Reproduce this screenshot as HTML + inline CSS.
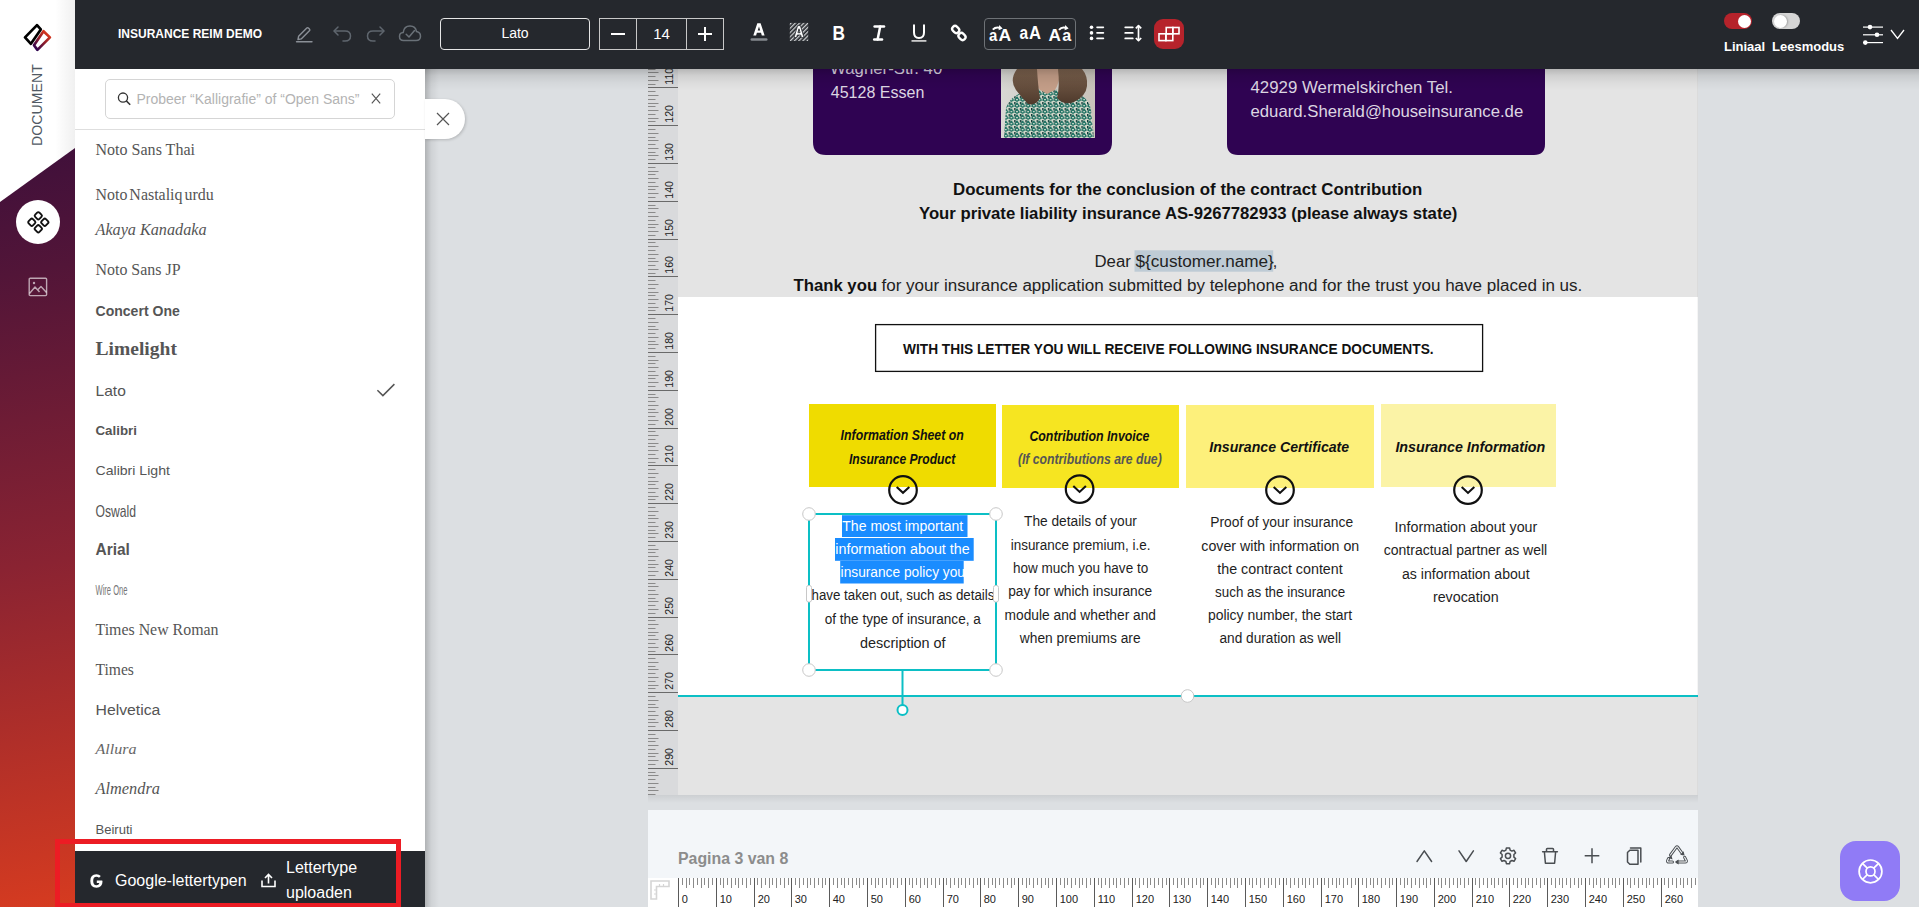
<!DOCTYPE html>
<html><head><meta charset="utf-8">
<style>
*{box-sizing:border-box;margin:0;padding:0}
html,body{width:1919px;height:907px;overflow:hidden;background:#dcdfe2;font-family:"Liberation Sans",sans-serif;position:relative}
.abs{position:absolute}
/* sidebar */
#side{left:0;top:0;width:75px;height:907px;background:linear-gradient(170deg,#2f0a3c 0%,#3d0f3b 15%,#521538 30%,#8a2332 62%,#d63b20 100%)}
#sidewhite{left:0;top:0;width:75px;height:202px;background:#fff;clip-path:polygon(0 0,75px 0,75px 148px,0 202px)}
#sideshadow{left:55px;top:0;width:20px;height:160px;background:linear-gradient(90deg,rgba(0,0,0,0),rgba(0,0,0,0.06));clip-path:polygon(0 0,20px 0,20px 148px,0 162px)}
#doc-label{left:37px;top:104.5px;transform:translate(-50%,-50%) rotate(-90deg);font-size:14px;color:#515a64;letter-spacing:0.15px;white-space:nowrap}
/* toolbar */
#tb{left:75px;top:0;width:1844px;height:69px;background:#25282d}
.tbt{color:#fff;font-weight:bold;font-size:12px;white-space:nowrap}
/* panel */
#panel{left:75px;top:69px;width:350px;height:782px;background:#fff}
#search{left:105px;top:79px;width:290px;height:40px;border:1px solid #d5d5d5;border-radius:5px;background:#fff}
#sep{left:75px;top:129px;width:350px;height:1px;background:#dedede}
.fi{position:absolute;left:95px;color:#555;white-space:nowrap}
#pfoot{left:75px;top:851px;width:350px;height:56px;background:#25282d}
#redbox{left:55px;top:839px;width:346px;height:69px;border:5px solid #ec1c24}
/* canvas */
#xtab{left:425px;top:99px;width:40px;height:40px;background:#fff;border-radius:0 20px 20px 0;box-shadow:1px 1px 3px rgba(0,0,0,0.18)}
#vr{left:648px;top:69px;width:30px;height:726px;background:#d9dadc;overflow:hidden}
#page{left:678px;top:69px;width:1020px;height:726px;background:#fff;overflow:hidden}
#pfooter{left:648px;top:810px;width:1050px;height:97px;background:#f3f6f9}
#help{left:1840px;top:841px;width:60px;height:60px;border-radius:16px;background:#907bf6}
</style></head><body>
<div id="side" class="abs"></div>
<div id="sidewhite" class="abs"></div>
<div id="sideshadow" class="abs"></div>
<div id="doc-label" class="abs">DOCUMENT</div>
<svg class="abs" style="left:15px;top:15px" width="45" height="45" viewBox="15 15 45 45">
<defs><linearGradient id="lg1" gradientUnits="userSpaceOnUse" x1="36" y1="50" x2="50" y2="34"><stop offset="0" stop-color="#2a0450"/><stop offset="0.5" stop-color="#8a1c2c"/><stop offset="1" stop-color="#e23a1c"/></linearGradient></defs>
<path d="M49.9 37.4 L37.4 49.9 L34 45.3 L43.5 31.2 Z" fill="none" stroke="url(#lg1)" stroke-width="2.7" stroke-linejoin="round"/>
<path d="M37 25.1 L25 37.4 L30.9 43.8 L40.8 29.4 Z" fill="none" stroke="#000" stroke-width="2.7" stroke-linejoin="round"/>
</svg>
<div class="abs" style="left:16px;top:199.5px;width:44px;height:44px;border-radius:22px;background:#fff"></div>
<svg class="abs" style="left:27px;top:211px" width="23" height="23" viewBox="0 0 23 23" fill="none" stroke="#111" stroke-width="1.9">
<rect x="8.3" y="1.8" width="6" height="6" rx="1.6" transform="rotate(45 11.3 4.8)"/>
<rect x="8.3" y="14.8" width="6" height="6" rx="1.6" transform="rotate(45 11.3 17.8)"/>
<rect x="1.8" y="8.3" width="6" height="6" rx="1.6" transform="rotate(45 4.8 11.3)"/>
<rect x="14.8" y="8.3" width="6" height="6" rx="1.6" transform="rotate(45 17.8 11.3)"/>
</svg>
<svg class="abs" style="left:28px;top:277px" width="20" height="20" viewBox="0 0 20 20" fill="none" stroke="rgba(255,255,255,0.62)" stroke-width="1.4">
<rect x="1.2" y="1.2" width="17.4" height="17.4" rx="1"/><circle cx="6" cy="6" r="1.2" fill="rgba(255,255,255,0.62)" stroke="none"/><path d="M1.5 16.5 L7 10 L11.5 15 M9.5 13 L13 9.5 L18.5 15.5" stroke-linejoin="round"/>
</svg>

<div id="tb" class="abs"></div>
<div class="abs tbt" style="left:118px;top:27px">INSURANCE REIM DEMO</div>
<!-- pencil -->
<svg class="abs" style="left:294px;top:24px" width="20" height="20" viewBox="0 0 20 20" fill="none" stroke="#8b9097" stroke-width="1.4" stroke-linejoin="round"><path d="M4 15.5 L4.6 12.3 L12.8 4.1 Q13.6 3.3 14.4 4.1 L15.4 5.1 Q16.2 5.9 15.4 6.7 L7.2 14.9 Z"/><path d="M2.5 17.8 H18" stroke-linecap="round"/></svg>
<!-- undo -->
<svg class="abs" style="left:332px;top:24px" width="21" height="20" viewBox="0 0 21 20" fill="none" stroke="#5f666e" stroke-width="1.5" stroke-linecap="round" stroke-linejoin="round"><path d="M6 3 L2 7 L6 11"/><path d="M2.5 7 H13 Q18.5 7 18.5 12 Q18.5 17 13 17 H11"/></svg>
<!-- redo -->
<svg class="abs" style="left:365px;top:24px" width="21" height="20" viewBox="0 0 21 20" fill="none" stroke="#5f666e" stroke-width="1.5" stroke-linecap="round" stroke-linejoin="round"><path d="M15 3 L19 7 L15 11"/><path d="M18.5 7 H8 Q2.5 7 2.5 12 Q2.5 17 8 17 H10"/></svg>
<!-- cloud check -->
<svg class="abs" style="left:398px;top:23px" width="24" height="21" viewBox="0 0 24 21" fill="none" stroke="#6a7178" stroke-width="1.5" stroke-linecap="round" stroke-linejoin="round"><path d="M7 17.5 H5.5 Q1.5 17.5 1.5 13.5 Q1.5 9.8 5.2 9.6 Q6 3 12 3 Q17.6 3 18.5 8.6 Q22.5 9.3 22.5 13.2 Q22.5 17.5 18 17.5 H7"/><path d="M8.2 11.2 L11 14 L16.5 7.5"/></svg>
<!-- font name -->
<div class="abs" style="left:440px;top:18px;width:150px;height:32px;border:1px solid #e6e6e6;border-radius:4px;color:#fff;font-size:14px;text-align:center;line-height:28px">Lato</div>
<!-- size group -->
<div class="abs" style="left:599px;top:18px;width:125px;height:32px;border:1px solid #c8c8c8"></div>
<div class="abs" style="left:636px;top:18px;width:1px;height:32px;background:#c8c8c8"></div>
<div class="abs" style="left:686px;top:18px;width:1px;height:32px;background:#c8c8c8"></div>
<div class="abs" style="left:611px;top:33px;width:14px;height:2px;background:#fff"></div>
<div class="abs" style="left:637px;top:18px;width:49px;height:32px;color:#fff;font-size:15px;text-align:center;line-height:32px">14</div>
<div class="abs" style="left:698px;top:33px;width:14px;height:2px;background:#fff"></div>
<div class="abs" style="left:704px;top:27px;width:2px;height:14px;background:#fff"></div>
<!-- text color A -->
<svg class="abs" style="left:748px;top:21px" width="22" height="22" viewBox="0 0 22 22"><path fill-rule="evenodd" d="M5.3 14.4 L9.3 2.3 H12.6 L16.6 14.4 H13.8 L13 11.8 H8.9 L8.1 14.4 Z M9.7 9.4 H12.2 L11 5.6 Z" fill="#fff"/><rect x="2.5" y="17.2" width="17" height="2.5" rx="1.25" fill="#85898e"/></svg>
<!-- highlight A hatched -->
<svg class="abs" style="left:788px;top:21px" width="22" height="22" viewBox="0 0 22 22"><defs><pattern id="hatch" width="3" height="3" patternUnits="userSpaceOnUse" patternTransform="rotate(-45)"><rect width="3" height="1.3" fill="#d0d2d4"/></pattern></defs><rect x="1.8" y="1.9" width="18.4" height="18.1" fill="url(#hatch)"/><path fill-rule="evenodd" d="M6 16.6 L9.6 4.6 H12.4 L16 16.6 H13.4 L12.7 14 H9.3 L8.6 16.6 Z M9.9 11.7 H12.1 L11 7.8 Z" fill="#fff" stroke="#25282d" stroke-width="0.8"/></svg>
<!-- B -->
<svg class="abs" style="left:829px;top:21px" width="20" height="24" viewBox="0 0 20 24"><text x="3.5" y="19.4" font-family="Liberation Sans" font-weight="bold" font-size="19.5" fill="#fff" textLength="12.5" lengthAdjust="spacingAndGlyphs">B</text></svg>
<!-- I -->
<svg class="abs" style="left:868px;top:23px" width="20" height="20" viewBox="0 0 20 20" fill="none" stroke="#fff" stroke-width="2.5" stroke-linecap="round"><path d="M6.6 3.4 H16"/><path d="M6.2 16.4 H14"/><path d="M12.2 3.4 L9.6 16.4"/></svg>
<!-- U -->
<svg class="abs" style="left:909px;top:23px" width="20" height="20" viewBox="0 0 20 20" fill="none" stroke="#fff" stroke-width="2"><path d="M5 2.2 V9.5 Q5 15 10 15 Q15 15 15 9.5 V2.2" stroke-linecap="round"/><path d="M2.5 17.9 H17.4" stroke="#c9c9c9" stroke-width="1.8"/></svg>
<!-- link -->
<svg class="abs" style="left:948px;top:23px" width="21" height="21" viewBox="0 0 21 21" fill="none" stroke="#fff" stroke-width="2.3"><rect x="3.9" y="3.6" width="7.6" height="5.8" rx="2.9" transform="rotate(45 7.7 6.5)"/><rect x="10.2" y="10.6" width="7.6" height="5.8" rx="2.9" transform="rotate(45 14 13.5)"/></svg>
<!-- case group -->
<div class="abs" style="left:984px;top:18px;width:92px;height:32px;border:1px solid #6e7276;border-radius:4px"></div>
<svg class="abs" style="left:986px;top:22px" width="88" height="22" viewBox="0 0 88 22" fill="#fff" font-family="Liberation Sans" font-weight="bold">
<text x="2.9" y="18.8" font-size="16.5" textLength="8.3" lengthAdjust="spacingAndGlyphs">a</text><text x="12.6" y="18.8" font-size="17" textLength="12.7" lengthAdjust="spacingAndGlyphs">A</text>
<path d="M6.8 7.6 Q10 4.2 15 6.2" fill="none" stroke="#fff" stroke-width="2"/><path d="M13.2 3 L16.6 6.4 L12.6 8.2 Z"/>
<text x="33.6" y="17" font-size="17.5" textLength="8.6" lengthAdjust="spacingAndGlyphs">a</text><text x="43" y="17" font-size="17.5" textLength="12" lengthAdjust="spacingAndGlyphs">A</text>
<text x="62.6" y="18.8" font-size="16.8" textLength="12.4" lengthAdjust="spacingAndGlyphs">A</text><text x="76.2" y="18.8" font-size="16.5" textLength="9" lengthAdjust="spacingAndGlyphs">a</text>
<path d="M73 7.8 Q76 4.2 81 6.2" fill="none" stroke="#fff" stroke-width="2"/><path d="M79.2 3 L82.6 6.4 L78.6 8.2 Z"/>
</svg>
<!-- list -->
<svg class="abs" style="left:1088px;top:24px" width="18" height="18" viewBox="0 0 18 18" fill="#fff"><circle cx="3.5" cy="3.3" r="1.8"/><circle cx="3.5" cy="8.9" r="1.8"/><circle cx="3.5" cy="14.4" r="1.8"/><rect x="8.2" y="2.45" width="8" height="1.7" rx="0.8"/><rect x="8.2" y="8.05" width="8" height="1.7" rx="0.8"/><rect x="8.2" y="13.55" width="8" height="1.7" rx="0.8"/></svg>
<!-- line spacing -->
<svg class="abs" style="left:1123px;top:24px" width="20" height="18" viewBox="0 0 20 18" fill="none" stroke="#fff" stroke-width="1.7"><path d="M2.2 3.3 H9.8 M2.2 8.9 H9.8 M2.2 14.4 H9.8" stroke-linecap="round"/><path d="M15.5 2 V16.3"/><path d="M12.8 4.3 L15.5 1.6 L18.2 4.3 M12.8 14 L15.5 16.7 L18.2 14" stroke-linejoin="round"/></svg>
<!-- red active -->
<div class="abs" style="left:1154px;top:19px;width:30px;height:30px;border-radius:9px;background:#b6232b"></div>
<svg class="abs" style="left:1157px;top:25px" width="24" height="18" viewBox="0 0 24 18" fill="none" stroke="#fff" stroke-width="1.6"><rect x="9.2" y="2.5" width="6.6" height="6.3"/><rect x="15.8" y="2.5" width="6.2" height="6.3"/><rect x="2" y="8.8" width="6.9" height="6.8"/><rect x="8.9" y="8.8" width="6.9" height="6.8"/></svg>
<!-- toggles -->
<div class="abs" style="left:1724px;top:13px;width:28px;height:16px;border-radius:8px;background:#b6232b"></div>
<div class="abs" style="left:1737.5px;top:14.5px;width:13px;height:13px;border-radius:7px;background:#fff"></div>
<div class="abs" style="left:1772px;top:13px;width:28px;height:16px;border-radius:8px;background:#d5d5d5"></div>
<div class="abs" style="left:1773.5px;top:14.5px;width:13px;height:13px;border-radius:7px;background:#fff;box-shadow:1px 0 2px rgba(0,0,0,0.25)"></div>
<div class="abs" style="left:1724px;top:39px;color:#fff;font-weight:bold;font-size:13px;white-space:nowrap">Liniaal</div>
<div class="abs" style="left:1772px;top:39px;color:#fff;font-weight:bold;font-size:13px;white-space:nowrap">Leesmodus</div>
<!-- sliders -->
<svg class="abs" style="left:1862px;top:23px" width="22" height="22" viewBox="0 0 22 22" fill="#fff"><rect x="1" y="3.5" width="20" height="1.2"/><rect x="1" y="11.2" width="20" height="1.2"/><rect x="1" y="19" width="20" height="1.2"/><circle cx="8" cy="4.1" r="2.3"/><circle cx="15" cy="11.8" r="2.3"/><circle cx="3.3" cy="19.6" r="2.3"/></svg>
<svg class="abs" style="left:1890px;top:29px" width="15" height="11" viewBox="0 0 15 11" fill="none" stroke="#fff" stroke-width="1.3"><path d="M1 1 L7.5 9.5 L14 1"/></svg>


<div id="panel" class="abs"></div>
<div id="search" class="abs"></div>
<div id="sep" class="abs"></div>
<svg class="abs" style="left:0;top:0" width="425" height="130" viewBox="0 0 425 130">
<circle cx="123" cy="97.6" r="4.6" fill="none" stroke="#333" stroke-width="1.3"/><path d="M126.3 100.9 L130.2 104.8" stroke="#333" stroke-width="1.5"/>
<text x="136.5" y="104.3" font-family="Liberation Sans" font-size="14" fill="#b3b3b3" textLength="223" lengthAdjust="spacingAndGlyphs">Probeer “Kalligrafie” of “Open Sans”</text>
<path d="M371.8 93.6 L380.2 103.4 M380.2 93.6 L371.8 103.4" stroke="#555" stroke-width="1.15"/>
</svg>
<svg class="abs" style="left:0;top:0" width="425" height="851" viewBox="0 0 425 851">
<text x="95.5" y="154.8" font-family='Liberation Serif' font-size='16' fill="#555" textLength="99.5" lengthAdjust="spacingAndGlyphs">Noto Sans Thai</text>
<text x="95.5" y="199.9" font-family='Liberation Serif' font-size='16' word-spacing='-2' fill="#555" textLength="118.2" lengthAdjust="spacingAndGlyphs">Noto Nastaliq urdu</text>
<text x="95.5" y="234.6" font-family='Liberation Serif' font-style='italic' font-size='16' fill="#555" textLength="111" lengthAdjust="spacingAndGlyphs">Akaya Kanadaka</text>
<text x="95.5" y="275.2" font-family='Liberation Serif' font-size='16' fill="#555" textLength="85" lengthAdjust="spacingAndGlyphs">Noto Sans JP</text>
<text x="95.5" y="316.1" font-family='Liberation Sans' font-weight='bold' font-size='14.5' fill="#555" textLength="84.3" lengthAdjust="spacingAndGlyphs">Concert One</text>
<text x="95.5" y="354.9" font-family='Liberation Serif' font-weight='bold' font-size='18' fill="#555" textLength="81.4" lengthAdjust="spacingAndGlyphs">Limelight</text>
<text x="95.5" y="395.8" font-family='Liberation Sans' font-size='14.5' fill="#555" textLength="30.3" lengthAdjust="spacingAndGlyphs">Lato</text>
<text x="95.5" y="435" font-family='Liberation Sans' font-weight='bold' font-size='13' fill="#555" textLength="41.4" lengthAdjust="spacingAndGlyphs">Calibri</text>
<text x="95.5" y="474.7" font-family='Liberation Sans' font-size='13.3' fill="#555" textLength="74.4" lengthAdjust="spacingAndGlyphs">Calibri Light</text>
<text x="95.5" y="516.7" font-family='Liberation Sans' font-size='17' fill="#555" textLength="40.5" lengthAdjust="spacingAndGlyphs">Oswald</text>
<text x="95.5" y="554.6" font-family='Liberation Sans' font-weight='bold' font-size='16' fill="#555" textLength="34.4" lengthAdjust="spacingAndGlyphs">Arial</text>
<text x="95.5" y="595" font-family='Liberation Sans' font-size='14.5' fill="#777" textLength="32" lengthAdjust="spacingAndGlyphs">Wire One</text>
<text x="95.5" y="634.7" font-family='Liberation Serif' font-size='16' fill="#555" textLength="123" lengthAdjust="spacingAndGlyphs">Times New Roman</text>
<text x="95.5" y="674.9" font-family='Liberation Serif' font-size='16' fill="#555" textLength="38.4" lengthAdjust="spacingAndGlyphs">Times</text>
<text x="95.5" y="715" font-family='Liberation Sans' font-size='15.5' fill="#555" textLength="64.9" lengthAdjust="spacingAndGlyphs">Helvetica</text>
<text x="95.5" y="753.7" font-family='Liberation Serif' font-style='italic' font-size='14' fill="#666" textLength="41" lengthAdjust="spacingAndGlyphs">Allura</text>
<text x="95.5" y="794.3" font-family='Liberation Serif' font-style='italic' font-size='17' fill="#555" textLength="64.4" lengthAdjust="spacingAndGlyphs">Almendra</text>
<text x="95.5" y="833.8" font-family='Liberation Sans' font-size='12.5' fill="#555" textLength="37" lengthAdjust="spacingAndGlyphs">Beiruti</text>
<path d="M377.4 390.3 L382.9 395.6 L394.4 384.1" fill="none" stroke="#555" stroke-width="1.5"/>
</svg>
<div id="pfoot" class="abs"></div>
<svg class="abs" style="left:0;top:851px" width="425" height="56" viewBox="0 851 425 56">
<path d="M102.2 880.5 H96.8 V882.9 H99.4 Q98.8 885.2 96.4 885.2 Q93.2 885.2 93.2 881 Q93.2 876.8 96.4 876.8 Q98 876.8 99 877.8 L100.8 876 Q99.1 874.3 96.4 874.3 Q90.3 874.3 90.3 881 Q90.3 887.7 96.4 887.7 Q102.5 887.7 102.5 881.6 Z" fill="#fff"/>
<text x="115" y="886.2" font-family="Liberation Sans" font-size="16" fill="#fff">Google-lettertypen</text>
<path d="M262 880.5 V886.5 H275 V880.5" fill="none" stroke="#fff" stroke-width="1.6"/><path d="M268.5 883.5 V874.5 M265 878 L268.5 874.5 L272 878" fill="none" stroke="#fff" stroke-width="1.6"/>
<text x="286" y="873" font-family="Liberation Sans" font-size="16" fill="#fff">Lettertype</text>
<text x="286" y="898.3" font-family="Liberation Sans" font-size="16" fill="#fff">uploaden</text>
</svg>
<div id="redbox" class="abs"></div>

<div class="abs" style="left:425px;top:69px;width:14px;height:838px;background:linear-gradient(90deg,rgba(0,0,0,0.2),rgba(0,0,0,0.06) 45%,rgba(0,0,0,0))"></div>
<div class="abs" style="left:648px;top:795px;width:1050px;height:8px;background:linear-gradient(180deg,rgba(0,0,0,0.07),rgba(0,0,0,0))"></div>
<div id="xtab" class="abs"></div>
<svg class="abs" style="left:425px;top:99px" width="40" height="40" viewBox="425 99 40 40"><path d="M437 113 L449 125 M449 113 L437 125" stroke="#555" stroke-width="1.2"/></svg>
<svg class="abs" style="left:678px;top:69px" width="1020" height="726" viewBox="678 69 1020 726">
<rect x="678" y="69" width="1020" height="726" fill="#fff"/>
<rect x="678" y="69" width="1020" height="228" fill="#e4e4e4"/>
<rect x="678" y="696" width="1020" height="99" fill="#e4e4e4"/>
<path d="M813 40 H1112 V142 Q1112 155 1099 155 H826 Q813 155 813 142 Z" fill="#2f0352"/>
<path d="M1227 40 H1545 V144 Q1545 155 1534 155 H1238 Q1227 155 1227 144 Z" fill="#2f0352"/>
<defs>
<linearGradient id="ph1" x1="0" y1="0" x2="1" y2="0"><stop offset="0" stop-color="#d9d8d4"/><stop offset="0.5" stop-color="#cfcbc4"/><stop offset="1" stop-color="#c9c3bb"/></linearGradient>
<pattern id="shirt" width="5.6" height="6" patternUnits="userSpaceOnUse" patternTransform="translate(1003 90)"><rect width="5.6" height="6" fill="#d5d9cc"/><path d="M2.8 0 L5.6 4.2 L2.8 6 L0 4.2 Z" fill="#146b5c"/><circle cx="2.8" cy="3.6" r="0.9" fill="#dfe3d6"/><rect x="0" y="0" width="1.4" height="2.4" fill="#0a3a36"/></pattern>
<linearGradient id="hair" x1="0" y1="0" x2="0" y2="1"><stop offset="0" stop-color="#7d634f"/><stop offset="1" stop-color="#4f3a2c"/></linearGradient>
</defs>
<rect x="1001" y="69" width="94" height="69" fill="url(#ph1)"/>
<path d="M1004 138 L1006 108 Q1010 96 1024 92 Q1038 88 1047 91 Q1060 88 1074 92 Q1089 97 1091 110 L1094 138 Z" fill="url(#shirt)"/>
<path d="M1033 69 Q1033 82 1040 90 L1047 94 L1055 90 Q1060 82 1060 69 Z" fill="#c49e88"/>
<path d="M1017 69 Q1009 80 1016 90 Q1022 98 1028 104 Q1036 106 1040 98 Q1038 86 1037 69 Z" fill="url(#hair)"/>
<path d="M1058 69 Q1060 86 1057 98 Q1064 106 1074 102 Q1086 96 1087 86 Q1088 76 1082 69 Z" fill="url(#hair)"/>
<text x="830.0" y="74.2" font-family="Liberation Sans" font-size="17" font-weight="normal" font-style="normal" fill="#ddd6e2" textLength="112.3" lengthAdjust="spacingAndGlyphs">Wagner-Str. 40</text>
<text x="830.8" y="98.0" font-family="Liberation Sans" font-size="17" font-weight="normal" font-style="normal" fill="#ddd6e2" textLength="93.5" lengthAdjust="spacingAndGlyphs">45128 Essen</text>
<text x="1250.5" y="93.2" font-family="Liberation Sans" font-size="17" font-weight="normal" font-style="normal" fill="#ddd6e2" textLength="202.5" lengthAdjust="spacingAndGlyphs">42929 Wermelskirchen Tel.</text>
<text x="1250.5" y="116.9" font-family="Liberation Sans" font-size="17" font-weight="normal" font-style="normal" fill="#ddd6e2" textLength="272.7" lengthAdjust="spacingAndGlyphs">eduard.Sherald@houseinsurance.de</text>
<text x="953.0" y="195.0" font-family="Liberation Sans" font-size="16" font-weight="bold" font-style="normal" fill="#111" textLength="469.3" lengthAdjust="spacingAndGlyphs">Documents for the conclusion of the contract Contribution</text>
<text x="919.0" y="218.8" font-family="Liberation Sans" font-size="16" font-weight="bold" font-style="normal" fill="#111" textLength="538.3" lengthAdjust="spacingAndGlyphs">Your private liability insurance AS-9267782933 (please always state)</text>
<rect x="1134.5" y="250.3" width="138.7" height="21.4" fill="#becbd5"/>
<text x="1094.5" y="267.2" font-family="Liberation Sans" font-size="16" font-weight="normal" font-style="normal" fill="#222" textLength="36.3" lengthAdjust="spacingAndGlyphs">Dear</text>
<text x="1135.5" y="267.2" font-family="Liberation Sans" font-size="16" font-weight="normal" font-style="normal" fill="#222" textLength="138.3" lengthAdjust="spacingAndGlyphs">${customer.name}</text>
<text x="1272.8" y="267.2" font-family="Liberation Sans" font-size="16" font-weight="normal" font-style="normal" fill="#222" textLength="4.5" lengthAdjust="spacingAndGlyphs">,</text>
<text x="793.5" y="290.9" font-family="Liberation Sans" font-size="16" font-weight="bold" font-style="normal" fill="#111" textLength="83.6" lengthAdjust="spacingAndGlyphs">Thank you</text>
<text x="881.5" y="290.9" font-family="Liberation Sans" font-size="16" font-weight="normal" font-style="normal" fill="#222" textLength="700.8" lengthAdjust="spacingAndGlyphs">for your insurance application submitted by telephone and for the trust you have placed in us.</text>
<rect x="875.6" y="324.6" width="607" height="46.8" fill="none" stroke="#111" stroke-width="1.3"/>
<text x="903.0" y="354.2" font-family="Liberation Sans" font-size="14" font-weight="bold" font-style="normal" fill="#111" textLength="530.6" lengthAdjust="spacingAndGlyphs">WITH THIS LETTER YOU WILL RECEIVE FOLLOWING  INSURANCE DOCUMENTS.</text>
<rect x="809" y="404" width="187" height="83" fill="#efdc00"/>
<rect x="1002" y="405" width="177" height="83" fill="#f6e521"/>
<rect x="1186" y="405" width="188" height="83" fill="#fdf07b"/>
<rect x="1381" y="404" width="175" height="83" fill="#fbf3a6"/>
<text x="840.6" y="440.2" font-family="Liberation Sans" font-size="14" font-weight="bold" font-style="italic" fill="#111" textLength="123.1" lengthAdjust="spacingAndGlyphs">Information Sheet on</text>
<text x="849.0" y="464.0" font-family="Liberation Sans" font-size="14" font-weight="bold" font-style="italic" fill="#111" textLength="106.2" lengthAdjust="spacingAndGlyphs">Insurance Product</text>
<text x="1029.4" y="441.0" font-family="Liberation Sans" font-size="14" font-weight="bold" font-style="italic" fill="#111" textLength="120.1" lengthAdjust="spacingAndGlyphs">Contribution Invoice</text>
<text x="1017.9" y="463.8" font-family="Liberation Sans" font-size="14" font-weight="bold" font-style="italic" fill="#555" textLength="143.8" lengthAdjust="spacingAndGlyphs">(If contributions are due)</text>
<text x="1209.3" y="452.1" font-family="Liberation Sans" font-size="15" font-weight="bold" font-style="italic" fill="#111" textLength="139.9" lengthAdjust="spacingAndGlyphs">Insurance Certificate</text>
<text x="1395.4" y="452.1" font-family="Liberation Sans" font-size="15" font-weight="bold" font-style="italic" fill="#111" textLength="149.9" lengthAdjust="spacingAndGlyphs">Insurance Information</text>
<circle cx="903" cy="490" r="13.8" fill="none" stroke="#111" stroke-width="2.2"/>
<path d="M896.7 487 L903 492.8 L909.3 487" fill="none" stroke="#111" stroke-width="2.1"/>
<circle cx="1079.6" cy="489.1" r="13.8" fill="none" stroke="#111" stroke-width="2.2"/>
<path d="M1073.3 486.1 L1079.6 491.90000000000003 L1085.8999999999999 486.1" fill="none" stroke="#111" stroke-width="2.1"/>
<circle cx="1280" cy="490.1" r="13.8" fill="none" stroke="#111" stroke-width="2.2"/>
<path d="M1273.7 487.1 L1280 492.90000000000003 L1286.3 487.1" fill="none" stroke="#111" stroke-width="2.1"/>
<circle cx="1468" cy="490.1" r="13.8" fill="none" stroke="#111" stroke-width="2.2"/>
<path d="M1461.7 487.1 L1468 492.90000000000003 L1474.3 487.1" fill="none" stroke="#111" stroke-width="2.1"/>
<rect x="842" y="515.2" width="125.5" height="21.8" fill="#1a8cff"/>
<rect x="835" y="538" width="138.7" height="22.8" fill="#1a8cff"/>
<rect x="840.2" y="561" width="123.5" height="22.5" fill="#1a8cff"/>
<text x="842.3" y="531.1" font-family="Liberation Sans" font-size="14" font-weight="normal" font-style="normal" fill="#fff" textLength="120.9" lengthAdjust="spacingAndGlyphs">The most important</text>
<text x="835.3" y="554.4" font-family="Liberation Sans" font-size="14" font-weight="normal" font-style="normal" fill="#fff" textLength="134.4" lengthAdjust="spacingAndGlyphs">information about the</text>
<text x="840.6" y="577.3" font-family="Liberation Sans" font-size="14" font-weight="normal" font-style="normal" fill="#fff" textLength="124.4" lengthAdjust="spacingAndGlyphs">insurance policy you</text>
<text x="811.5" y="600.2" font-family="Liberation Sans" font-size="14" font-weight="normal" font-style="normal" fill="#222" textLength="182.9" lengthAdjust="spacingAndGlyphs">have taken out, such as details</text>
<text x="824.7" y="624.4" font-family="Liberation Sans" font-size="14" font-weight="normal" font-style="normal" fill="#222" textLength="156.1" lengthAdjust="spacingAndGlyphs">of the type of insurance, a</text>
<text x="860.0" y="647.5" font-family="Liberation Sans" font-size="14" font-weight="normal" font-style="normal" fill="#222" textLength="85.6" lengthAdjust="spacingAndGlyphs">description of</text>
<text x="1024.0" y="525.7" font-family="Liberation Sans" font-size="14" font-weight="normal" font-style="normal" fill="#1e1e1e" textLength="112.9" lengthAdjust="spacingAndGlyphs">The details of your</text>
<text x="1010.7" y="549.7" font-family="Liberation Sans" font-size="14" font-weight="normal" font-style="normal" fill="#1e1e1e" textLength="139.8" lengthAdjust="spacingAndGlyphs">insurance premium, i.e.</text>
<text x="1012.9" y="572.8" font-family="Liberation Sans" font-size="14" font-weight="normal" font-style="normal" fill="#1e1e1e" textLength="135.3" lengthAdjust="spacingAndGlyphs">how much you have to</text>
<text x="1008.2" y="596.0" font-family="Liberation Sans" font-size="14" font-weight="normal" font-style="normal" fill="#1e1e1e" textLength="144.0" lengthAdjust="spacingAndGlyphs">pay for which insurance</text>
<text x="1004.6" y="619.5" font-family="Liberation Sans" font-size="14" font-weight="normal" font-style="normal" fill="#1e1e1e" textLength="151.4" lengthAdjust="spacingAndGlyphs">module and whether and</text>
<text x="1019.8" y="642.7" font-family="Liberation Sans" font-size="14" font-weight="normal" font-style="normal" fill="#1e1e1e" textLength="120.8" lengthAdjust="spacingAndGlyphs">when premiums are</text>
<text x="1210.2" y="526.8" font-family="Liberation Sans" font-size="14" font-weight="normal" font-style="normal" fill="#1e1e1e" textLength="142.9" lengthAdjust="spacingAndGlyphs">Proof of your insurance</text>
<text x="1201.3" y="550.5" font-family="Liberation Sans" font-size="14" font-weight="normal" font-style="normal" fill="#1e1e1e" textLength="157.9" lengthAdjust="spacingAndGlyphs">cover with information on</text>
<text x="1217.3" y="573.7" font-family="Liberation Sans" font-size="14" font-weight="normal" font-style="normal" fill="#1e1e1e" textLength="125.4" lengthAdjust="spacingAndGlyphs">the contract content</text>
<text x="1215.1" y="596.8" font-family="Liberation Sans" font-size="14" font-weight="normal" font-style="normal" fill="#1e1e1e" textLength="130.1" lengthAdjust="spacingAndGlyphs">such as the insurance</text>
<text x="1207.9" y="620.3" font-family="Liberation Sans" font-size="14" font-weight="normal" font-style="normal" fill="#1e1e1e" textLength="144.2" lengthAdjust="spacingAndGlyphs">policy number, the start</text>
<text x="1219.5" y="643.2" font-family="Liberation Sans" font-size="14" font-weight="normal" font-style="normal" fill="#1e1e1e" textLength="121.5" lengthAdjust="spacingAndGlyphs">and duration as well</text>
<text x="1394.6" y="531.8" font-family="Liberation Sans" font-size="14" font-weight="normal" font-style="normal" fill="#1e1e1e" textLength="142.7" lengthAdjust="spacingAndGlyphs">Information about your</text>
<text x="1383.8" y="555.4" font-family="Liberation Sans" font-size="14" font-weight="normal" font-style="normal" fill="#1e1e1e" textLength="163.4" lengthAdjust="spacingAndGlyphs">contractual partner as well</text>
<text x="1402.0" y="578.6" font-family="Liberation Sans" font-size="14" font-weight="normal" font-style="normal" fill="#1e1e1e" textLength="127.6" lengthAdjust="spacingAndGlyphs">as information about</text>
<text x="1432.9" y="601.5" font-family="Liberation Sans" font-size="14" font-weight="normal" font-style="normal" fill="#1e1e1e" textLength="65.8" lengthAdjust="spacingAndGlyphs">revocation</text>
<line x1="678" y1="696" x2="1698" y2="696" stroke="#0cbfc5" stroke-width="2"/>
<rect x="809" y="514" width="187" height="156" fill="none" stroke="#0cbfc5" stroke-width="2"/>
<line x1="902.5" y1="670" x2="902.5" y2="705" stroke="#0cbfc5" stroke-width="2"/>
<circle cx="902.5" cy="710" r="5" fill="#fff" stroke="#0cbfc5" stroke-width="2"/>
<circle cx="809" cy="514" r="6.3" fill="#fff" stroke="#c8c8c8" stroke-width="1"/>
<circle cx="996" cy="514" r="6.3" fill="#fff" stroke="#c8c8c8" stroke-width="1"/>
<circle cx="809" cy="670" r="6.3" fill="#fff" stroke="#c8c8c8" stroke-width="1"/>
<circle cx="996" cy="670" r="6.3" fill="#fff" stroke="#c8c8c8" stroke-width="1"/>
<circle cx="1187.5" cy="696" r="6.3" fill="#fff" stroke="#c8c8c8" stroke-width="1"/>
<rect x="806.5" y="585.5" width="5" height="16.5" rx="2" fill="#fff" stroke="#c8c8c8" stroke-width="1"/>
<rect x="993.5" y="585.5" width="5" height="16.5" rx="2" fill="#fff" stroke="#c8c8c8" stroke-width="1"/>
</svg>
<svg id="vr" class="abs" width="30" height="726" viewBox="0 69 30 726"><line x1="0" y1="61.5" x2="7.5" y2="61.5" stroke="#8a8a8a" stroke-width="1"/>
<line x1="0" y1="65.5" x2="10.5" y2="65.5" stroke="#8a8a8a" stroke-width="1"/>
<line x1="0" y1="69.5" x2="7.5" y2="69.5" stroke="#8a8a8a" stroke-width="1"/>
<line x1="0" y1="72.5" x2="10.5" y2="72.5" stroke="#8a8a8a" stroke-width="1"/>
<line x1="0" y1="76.5" x2="7.5" y2="76.5" stroke="#8a8a8a" stroke-width="1"/>
<line x1="0" y1="80.5" x2="10.5" y2="80.5" stroke="#8a8a8a" stroke-width="1"/>
<line x1="0" y1="84.5" x2="7.5" y2="84.5" stroke="#8a8a8a" stroke-width="1"/>
<line x1="0" y1="87.5" x2="30" y2="87.5" stroke="#6a6a6a" stroke-width="1"/>
<text transform="translate(25.3 84.7) rotate(-90)" font-size="10.6" fill="#222" font-family="Liberation Sans">110</text>
<line x1="0" y1="91.5" x2="7.5" y2="91.5" stroke="#8a8a8a" stroke-width="1"/>
<line x1="0" y1="95.5" x2="10.5" y2="95.5" stroke="#8a8a8a" stroke-width="1"/>
<line x1="0" y1="99.5" x2="7.5" y2="99.5" stroke="#8a8a8a" stroke-width="1"/>
<line x1="0" y1="103.5" x2="10.5" y2="103.5" stroke="#8a8a8a" stroke-width="1"/>
<line x1="0" y1="106.5" x2="7.5" y2="106.5" stroke="#8a8a8a" stroke-width="1"/>
<line x1="0" y1="110.5" x2="10.5" y2="110.5" stroke="#8a8a8a" stroke-width="1"/>
<line x1="0" y1="114.5" x2="7.5" y2="114.5" stroke="#8a8a8a" stroke-width="1"/>
<line x1="0" y1="118.5" x2="10.5" y2="118.5" stroke="#8a8a8a" stroke-width="1"/>
<line x1="0" y1="121.5" x2="7.5" y2="121.5" stroke="#8a8a8a" stroke-width="1"/>
<line x1="0" y1="125.5" x2="30" y2="125.5" stroke="#6a6a6a" stroke-width="1"/>
<text transform="translate(25.3 122.7) rotate(-90)" font-size="10.6" fill="#222" font-family="Liberation Sans">120</text>
<line x1="0" y1="129.5" x2="7.5" y2="129.5" stroke="#8a8a8a" stroke-width="1"/>
<line x1="0" y1="133.5" x2="10.5" y2="133.5" stroke="#8a8a8a" stroke-width="1"/>
<line x1="0" y1="137.5" x2="7.5" y2="137.5" stroke="#8a8a8a" stroke-width="1"/>
<line x1="0" y1="140.5" x2="10.5" y2="140.5" stroke="#8a8a8a" stroke-width="1"/>
<line x1="0" y1="144.5" x2="7.5" y2="144.5" stroke="#8a8a8a" stroke-width="1"/>
<line x1="0" y1="148.5" x2="10.5" y2="148.5" stroke="#8a8a8a" stroke-width="1"/>
<line x1="0" y1="152.5" x2="7.5" y2="152.5" stroke="#8a8a8a" stroke-width="1"/>
<line x1="0" y1="155.5" x2="10.5" y2="155.5" stroke="#8a8a8a" stroke-width="1"/>
<line x1="0" y1="159.5" x2="7.5" y2="159.5" stroke="#8a8a8a" stroke-width="1"/>
<line x1="0" y1="163.5" x2="30" y2="163.5" stroke="#6a6a6a" stroke-width="1"/>
<text transform="translate(25.3 160.7) rotate(-90)" font-size="10.6" fill="#222" font-family="Liberation Sans">130</text>
<line x1="0" y1="167.5" x2="7.5" y2="167.5" stroke="#8a8a8a" stroke-width="1"/>
<line x1="0" y1="171.5" x2="10.5" y2="171.5" stroke="#8a8a8a" stroke-width="1"/>
<line x1="0" y1="174.5" x2="7.5" y2="174.5" stroke="#8a8a8a" stroke-width="1"/>
<line x1="0" y1="178.5" x2="10.5" y2="178.5" stroke="#8a8a8a" stroke-width="1"/>
<line x1="0" y1="182.5" x2="7.5" y2="182.5" stroke="#8a8a8a" stroke-width="1"/>
<line x1="0" y1="186.5" x2="10.5" y2="186.5" stroke="#8a8a8a" stroke-width="1"/>
<line x1="0" y1="189.5" x2="7.5" y2="189.5" stroke="#8a8a8a" stroke-width="1"/>
<line x1="0" y1="193.5" x2="10.5" y2="193.5" stroke="#8a8a8a" stroke-width="1"/>
<line x1="0" y1="197.5" x2="7.5" y2="197.5" stroke="#8a8a8a" stroke-width="1"/>
<line x1="0" y1="201.5" x2="30" y2="201.5" stroke="#6a6a6a" stroke-width="1"/>
<text transform="translate(25.3 198.7) rotate(-90)" font-size="10.6" fill="#222" font-family="Liberation Sans">140</text>
<line x1="0" y1="205.5" x2="7.5" y2="205.5" stroke="#8a8a8a" stroke-width="1"/>
<line x1="0" y1="208.5" x2="10.5" y2="208.5" stroke="#8a8a8a" stroke-width="1"/>
<line x1="0" y1="212.5" x2="7.5" y2="212.5" stroke="#8a8a8a" stroke-width="1"/>
<line x1="0" y1="216.5" x2="10.5" y2="216.5" stroke="#8a8a8a" stroke-width="1"/>
<line x1="0" y1="220.5" x2="7.5" y2="220.5" stroke="#8a8a8a" stroke-width="1"/>
<line x1="0" y1="224.5" x2="10.5" y2="224.5" stroke="#8a8a8a" stroke-width="1"/>
<line x1="0" y1="227.5" x2="7.5" y2="227.5" stroke="#8a8a8a" stroke-width="1"/>
<line x1="0" y1="231.5" x2="10.5" y2="231.5" stroke="#8a8a8a" stroke-width="1"/>
<line x1="0" y1="235.5" x2="7.5" y2="235.5" stroke="#8a8a8a" stroke-width="1"/>
<line x1="0" y1="239.5" x2="30" y2="239.5" stroke="#6a6a6a" stroke-width="1"/>
<text transform="translate(25.3 236.7) rotate(-90)" font-size="10.6" fill="#222" font-family="Liberation Sans">150</text>
<line x1="0" y1="242.5" x2="7.5" y2="242.5" stroke="#8a8a8a" stroke-width="1"/>
<line x1="0" y1="246.5" x2="10.5" y2="246.5" stroke="#8a8a8a" stroke-width="1"/>
<line x1="0" y1="250.5" x2="7.5" y2="250.5" stroke="#8a8a8a" stroke-width="1"/>
<line x1="0" y1="254.5" x2="10.5" y2="254.5" stroke="#8a8a8a" stroke-width="1"/>
<line x1="0" y1="258.5" x2="7.5" y2="258.5" stroke="#8a8a8a" stroke-width="1"/>
<line x1="0" y1="261.5" x2="10.5" y2="261.5" stroke="#8a8a8a" stroke-width="1"/>
<line x1="0" y1="265.5" x2="7.5" y2="265.5" stroke="#8a8a8a" stroke-width="1"/>
<line x1="0" y1="269.5" x2="10.5" y2="269.5" stroke="#8a8a8a" stroke-width="1"/>
<line x1="0" y1="273.5" x2="7.5" y2="273.5" stroke="#8a8a8a" stroke-width="1"/>
<line x1="0" y1="276.5" x2="30" y2="276.5" stroke="#6a6a6a" stroke-width="1"/>
<text transform="translate(25.3 273.7) rotate(-90)" font-size="10.6" fill="#222" font-family="Liberation Sans">160</text>
<line x1="0" y1="280.5" x2="7.5" y2="280.5" stroke="#8a8a8a" stroke-width="1"/>
<line x1="0" y1="284.5" x2="10.5" y2="284.5" stroke="#8a8a8a" stroke-width="1"/>
<line x1="0" y1="288.5" x2="7.5" y2="288.5" stroke="#8a8a8a" stroke-width="1"/>
<line x1="0" y1="292.5" x2="10.5" y2="292.5" stroke="#8a8a8a" stroke-width="1"/>
<line x1="0" y1="295.5" x2="7.5" y2="295.5" stroke="#8a8a8a" stroke-width="1"/>
<line x1="0" y1="299.5" x2="10.5" y2="299.5" stroke="#8a8a8a" stroke-width="1"/>
<line x1="0" y1="303.5" x2="7.5" y2="303.5" stroke="#8a8a8a" stroke-width="1"/>
<line x1="0" y1="307.5" x2="10.5" y2="307.5" stroke="#8a8a8a" stroke-width="1"/>
<line x1="0" y1="310.5" x2="7.5" y2="310.5" stroke="#8a8a8a" stroke-width="1"/>
<line x1="0" y1="314.5" x2="30" y2="314.5" stroke="#6a6a6a" stroke-width="1"/>
<text transform="translate(25.3 311.7) rotate(-90)" font-size="10.6" fill="#222" font-family="Liberation Sans">170</text>
<line x1="0" y1="318.5" x2="7.5" y2="318.5" stroke="#8a8a8a" stroke-width="1"/>
<line x1="0" y1="322.5" x2="10.5" y2="322.5" stroke="#8a8a8a" stroke-width="1"/>
<line x1="0" y1="326.5" x2="7.5" y2="326.5" stroke="#8a8a8a" stroke-width="1"/>
<line x1="0" y1="329.5" x2="10.5" y2="329.5" stroke="#8a8a8a" stroke-width="1"/>
<line x1="0" y1="333.5" x2="7.5" y2="333.5" stroke="#8a8a8a" stroke-width="1"/>
<line x1="0" y1="337.5" x2="10.5" y2="337.5" stroke="#8a8a8a" stroke-width="1"/>
<line x1="0" y1="341.5" x2="7.5" y2="341.5" stroke="#8a8a8a" stroke-width="1"/>
<line x1="0" y1="344.5" x2="10.5" y2="344.5" stroke="#8a8a8a" stroke-width="1"/>
<line x1="0" y1="348.5" x2="7.5" y2="348.5" stroke="#8a8a8a" stroke-width="1"/>
<line x1="0" y1="352.5" x2="30" y2="352.5" stroke="#6a6a6a" stroke-width="1"/>
<text transform="translate(25.3 349.7) rotate(-90)" font-size="10.6" fill="#222" font-family="Liberation Sans">180</text>
<line x1="0" y1="356.5" x2="7.5" y2="356.5" stroke="#8a8a8a" stroke-width="1"/>
<line x1="0" y1="360.5" x2="10.5" y2="360.5" stroke="#8a8a8a" stroke-width="1"/>
<line x1="0" y1="363.5" x2="7.5" y2="363.5" stroke="#8a8a8a" stroke-width="1"/>
<line x1="0" y1="367.5" x2="10.5" y2="367.5" stroke="#8a8a8a" stroke-width="1"/>
<line x1="0" y1="371.5" x2="7.5" y2="371.5" stroke="#8a8a8a" stroke-width="1"/>
<line x1="0" y1="375.5" x2="10.5" y2="375.5" stroke="#8a8a8a" stroke-width="1"/>
<line x1="0" y1="378.5" x2="7.5" y2="378.5" stroke="#8a8a8a" stroke-width="1"/>
<line x1="0" y1="382.5" x2="10.5" y2="382.5" stroke="#8a8a8a" stroke-width="1"/>
<line x1="0" y1="386.5" x2="7.5" y2="386.5" stroke="#8a8a8a" stroke-width="1"/>
<line x1="0" y1="390.5" x2="30" y2="390.5" stroke="#6a6a6a" stroke-width="1"/>
<text transform="translate(25.3 387.7) rotate(-90)" font-size="10.6" fill="#222" font-family="Liberation Sans">190</text>
<line x1="0" y1="394.5" x2="7.5" y2="394.5" stroke="#8a8a8a" stroke-width="1"/>
<line x1="0" y1="397.5" x2="10.5" y2="397.5" stroke="#8a8a8a" stroke-width="1"/>
<line x1="0" y1="401.5" x2="7.5" y2="401.5" stroke="#8a8a8a" stroke-width="1"/>
<line x1="0" y1="405.5" x2="10.5" y2="405.5" stroke="#8a8a8a" stroke-width="1"/>
<line x1="0" y1="409.5" x2="7.5" y2="409.5" stroke="#8a8a8a" stroke-width="1"/>
<line x1="0" y1="412.5" x2="10.5" y2="412.5" stroke="#8a8a8a" stroke-width="1"/>
<line x1="0" y1="416.5" x2="7.5" y2="416.5" stroke="#8a8a8a" stroke-width="1"/>
<line x1="0" y1="420.5" x2="10.5" y2="420.5" stroke="#8a8a8a" stroke-width="1"/>
<line x1="0" y1="424.5" x2="7.5" y2="424.5" stroke="#8a8a8a" stroke-width="1"/>
<line x1="0" y1="428.5" x2="30" y2="428.5" stroke="#6a6a6a" stroke-width="1"/>
<text transform="translate(25.3 425.7) rotate(-90)" font-size="10.6" fill="#222" font-family="Liberation Sans">200</text>
<line x1="0" y1="431.5" x2="7.5" y2="431.5" stroke="#8a8a8a" stroke-width="1"/>
<line x1="0" y1="435.5" x2="10.5" y2="435.5" stroke="#8a8a8a" stroke-width="1"/>
<line x1="0" y1="439.5" x2="7.5" y2="439.5" stroke="#8a8a8a" stroke-width="1"/>
<line x1="0" y1="443.5" x2="10.5" y2="443.5" stroke="#8a8a8a" stroke-width="1"/>
<line x1="0" y1="446.5" x2="7.5" y2="446.5" stroke="#8a8a8a" stroke-width="1"/>
<line x1="0" y1="450.5" x2="10.5" y2="450.5" stroke="#8a8a8a" stroke-width="1"/>
<line x1="0" y1="454.5" x2="7.5" y2="454.5" stroke="#8a8a8a" stroke-width="1"/>
<line x1="0" y1="458.5" x2="10.5" y2="458.5" stroke="#8a8a8a" stroke-width="1"/>
<line x1="0" y1="462.5" x2="7.5" y2="462.5" stroke="#8a8a8a" stroke-width="1"/>
<line x1="0" y1="465.5" x2="30" y2="465.5" stroke="#6a6a6a" stroke-width="1"/>
<text transform="translate(25.3 462.7) rotate(-90)" font-size="10.6" fill="#222" font-family="Liberation Sans">210</text>
<line x1="0" y1="469.5" x2="7.5" y2="469.5" stroke="#8a8a8a" stroke-width="1"/>
<line x1="0" y1="473.5" x2="10.5" y2="473.5" stroke="#8a8a8a" stroke-width="1"/>
<line x1="0" y1="477.5" x2="7.5" y2="477.5" stroke="#8a8a8a" stroke-width="1"/>
<line x1="0" y1="481.5" x2="10.5" y2="481.5" stroke="#8a8a8a" stroke-width="1"/>
<line x1="0" y1="484.5" x2="7.5" y2="484.5" stroke="#8a8a8a" stroke-width="1"/>
<line x1="0" y1="488.5" x2="10.5" y2="488.5" stroke="#8a8a8a" stroke-width="1"/>
<line x1="0" y1="492.5" x2="7.5" y2="492.5" stroke="#8a8a8a" stroke-width="1"/>
<line x1="0" y1="496.5" x2="10.5" y2="496.5" stroke="#8a8a8a" stroke-width="1"/>
<line x1="0" y1="499.5" x2="7.5" y2="499.5" stroke="#8a8a8a" stroke-width="1"/>
<line x1="0" y1="503.5" x2="30" y2="503.5" stroke="#6a6a6a" stroke-width="1"/>
<text transform="translate(25.3 500.7) rotate(-90)" font-size="10.6" fill="#222" font-family="Liberation Sans">220</text>
<line x1="0" y1="507.5" x2="7.5" y2="507.5" stroke="#8a8a8a" stroke-width="1"/>
<line x1="0" y1="511.5" x2="10.5" y2="511.5" stroke="#8a8a8a" stroke-width="1"/>
<line x1="0" y1="515.5" x2="7.5" y2="515.5" stroke="#8a8a8a" stroke-width="1"/>
<line x1="0" y1="518.5" x2="10.5" y2="518.5" stroke="#8a8a8a" stroke-width="1"/>
<line x1="0" y1="522.5" x2="7.5" y2="522.5" stroke="#8a8a8a" stroke-width="1"/>
<line x1="0" y1="526.5" x2="10.5" y2="526.5" stroke="#8a8a8a" stroke-width="1"/>
<line x1="0" y1="530.5" x2="7.5" y2="530.5" stroke="#8a8a8a" stroke-width="1"/>
<line x1="0" y1="533.5" x2="10.5" y2="533.5" stroke="#8a8a8a" stroke-width="1"/>
<line x1="0" y1="537.5" x2="7.5" y2="537.5" stroke="#8a8a8a" stroke-width="1"/>
<line x1="0" y1="541.5" x2="30" y2="541.5" stroke="#6a6a6a" stroke-width="1"/>
<text transform="translate(25.3 538.7) rotate(-90)" font-size="10.6" fill="#222" font-family="Liberation Sans">230</text>
<line x1="0" y1="545.5" x2="7.5" y2="545.5" stroke="#8a8a8a" stroke-width="1"/>
<line x1="0" y1="549.5" x2="10.5" y2="549.5" stroke="#8a8a8a" stroke-width="1"/>
<line x1="0" y1="552.5" x2="7.5" y2="552.5" stroke="#8a8a8a" stroke-width="1"/>
<line x1="0" y1="556.5" x2="10.5" y2="556.5" stroke="#8a8a8a" stroke-width="1"/>
<line x1="0" y1="560.5" x2="7.5" y2="560.5" stroke="#8a8a8a" stroke-width="1"/>
<line x1="0" y1="564.5" x2="10.5" y2="564.5" stroke="#8a8a8a" stroke-width="1"/>
<line x1="0" y1="567.5" x2="7.5" y2="567.5" stroke="#8a8a8a" stroke-width="1"/>
<line x1="0" y1="571.5" x2="10.5" y2="571.5" stroke="#8a8a8a" stroke-width="1"/>
<line x1="0" y1="575.5" x2="7.5" y2="575.5" stroke="#8a8a8a" stroke-width="1"/>
<line x1="0" y1="579.5" x2="30" y2="579.5" stroke="#6a6a6a" stroke-width="1"/>
<text transform="translate(25.3 576.7) rotate(-90)" font-size="10.6" fill="#222" font-family="Liberation Sans">240</text>
<line x1="0" y1="583.5" x2="7.5" y2="583.5" stroke="#8a8a8a" stroke-width="1"/>
<line x1="0" y1="586.5" x2="10.5" y2="586.5" stroke="#8a8a8a" stroke-width="1"/>
<line x1="0" y1="590.5" x2="7.5" y2="590.5" stroke="#8a8a8a" stroke-width="1"/>
<line x1="0" y1="594.5" x2="10.5" y2="594.5" stroke="#8a8a8a" stroke-width="1"/>
<line x1="0" y1="598.5" x2="7.5" y2="598.5" stroke="#8a8a8a" stroke-width="1"/>
<line x1="0" y1="601.5" x2="10.5" y2="601.5" stroke="#8a8a8a" stroke-width="1"/>
<line x1="0" y1="605.5" x2="7.5" y2="605.5" stroke="#8a8a8a" stroke-width="1"/>
<line x1="0" y1="609.5" x2="10.5" y2="609.5" stroke="#8a8a8a" stroke-width="1"/>
<line x1="0" y1="613.5" x2="7.5" y2="613.5" stroke="#8a8a8a" stroke-width="1"/>
<line x1="0" y1="617.5" x2="30" y2="617.5" stroke="#6a6a6a" stroke-width="1"/>
<text transform="translate(25.3 614.7) rotate(-90)" font-size="10.6" fill="#222" font-family="Liberation Sans">250</text>
<line x1="0" y1="620.5" x2="7.5" y2="620.5" stroke="#8a8a8a" stroke-width="1"/>
<line x1="0" y1="624.5" x2="10.5" y2="624.5" stroke="#8a8a8a" stroke-width="1"/>
<line x1="0" y1="628.5" x2="7.5" y2="628.5" stroke="#8a8a8a" stroke-width="1"/>
<line x1="0" y1="632.5" x2="10.5" y2="632.5" stroke="#8a8a8a" stroke-width="1"/>
<line x1="0" y1="635.5" x2="7.5" y2="635.5" stroke="#8a8a8a" stroke-width="1"/>
<line x1="0" y1="639.5" x2="10.5" y2="639.5" stroke="#8a8a8a" stroke-width="1"/>
<line x1="0" y1="643.5" x2="7.5" y2="643.5" stroke="#8a8a8a" stroke-width="1"/>
<line x1="0" y1="647.5" x2="10.5" y2="647.5" stroke="#8a8a8a" stroke-width="1"/>
<line x1="0" y1="651.5" x2="7.5" y2="651.5" stroke="#8a8a8a" stroke-width="1"/>
<line x1="0" y1="654.5" x2="30" y2="654.5" stroke="#6a6a6a" stroke-width="1"/>
<text transform="translate(25.3 651.7) rotate(-90)" font-size="10.6" fill="#222" font-family="Liberation Sans">260</text>
<line x1="0" y1="658.5" x2="7.5" y2="658.5" stroke="#8a8a8a" stroke-width="1"/>
<line x1="0" y1="662.5" x2="10.5" y2="662.5" stroke="#8a8a8a" stroke-width="1"/>
<line x1="0" y1="666.5" x2="7.5" y2="666.5" stroke="#8a8a8a" stroke-width="1"/>
<line x1="0" y1="669.5" x2="10.5" y2="669.5" stroke="#8a8a8a" stroke-width="1"/>
<line x1="0" y1="673.5" x2="7.5" y2="673.5" stroke="#8a8a8a" stroke-width="1"/>
<line x1="0" y1="677.5" x2="10.5" y2="677.5" stroke="#8a8a8a" stroke-width="1"/>
<line x1="0" y1="681.5" x2="7.5" y2="681.5" stroke="#8a8a8a" stroke-width="1"/>
<line x1="0" y1="685.5" x2="10.5" y2="685.5" stroke="#8a8a8a" stroke-width="1"/>
<line x1="0" y1="688.5" x2="7.5" y2="688.5" stroke="#8a8a8a" stroke-width="1"/>
<line x1="0" y1="692.5" x2="30" y2="692.5" stroke="#6a6a6a" stroke-width="1"/>
<text transform="translate(25.3 689.7) rotate(-90)" font-size="10.6" fill="#222" font-family="Liberation Sans">270</text>
<line x1="0" y1="696.5" x2="7.5" y2="696.5" stroke="#8a8a8a" stroke-width="1"/>
<line x1="0" y1="700.5" x2="10.5" y2="700.5" stroke="#8a8a8a" stroke-width="1"/>
<line x1="0" y1="704.5" x2="7.5" y2="704.5" stroke="#8a8a8a" stroke-width="1"/>
<line x1="0" y1="707.5" x2="10.5" y2="707.5" stroke="#8a8a8a" stroke-width="1"/>
<line x1="0" y1="711.5" x2="7.5" y2="711.5" stroke="#8a8a8a" stroke-width="1"/>
<line x1="0" y1="715.5" x2="10.5" y2="715.5" stroke="#8a8a8a" stroke-width="1"/>
<line x1="0" y1="719.5" x2="7.5" y2="719.5" stroke="#8a8a8a" stroke-width="1"/>
<line x1="0" y1="722.5" x2="10.5" y2="722.5" stroke="#8a8a8a" stroke-width="1"/>
<line x1="0" y1="726.5" x2="7.5" y2="726.5" stroke="#8a8a8a" stroke-width="1"/>
<line x1="0" y1="730.5" x2="30" y2="730.5" stroke="#6a6a6a" stroke-width="1"/>
<text transform="translate(25.3 727.7) rotate(-90)" font-size="10.6" fill="#222" font-family="Liberation Sans">280</text>
<line x1="0" y1="734.5" x2="7.5" y2="734.5" stroke="#8a8a8a" stroke-width="1"/>
<line x1="0" y1="738.5" x2="10.5" y2="738.5" stroke="#8a8a8a" stroke-width="1"/>
<line x1="0" y1="741.5" x2="7.5" y2="741.5" stroke="#8a8a8a" stroke-width="1"/>
<line x1="0" y1="745.5" x2="10.5" y2="745.5" stroke="#8a8a8a" stroke-width="1"/>
<line x1="0" y1="749.5" x2="7.5" y2="749.5" stroke="#8a8a8a" stroke-width="1"/>
<line x1="0" y1="753.5" x2="10.5" y2="753.5" stroke="#8a8a8a" stroke-width="1"/>
<line x1="0" y1="756.5" x2="7.5" y2="756.5" stroke="#8a8a8a" stroke-width="1"/>
<line x1="0" y1="760.5" x2="10.5" y2="760.5" stroke="#8a8a8a" stroke-width="1"/>
<line x1="0" y1="764.5" x2="7.5" y2="764.5" stroke="#8a8a8a" stroke-width="1"/>
<line x1="0" y1="768.5" x2="30" y2="768.5" stroke="#6a6a6a" stroke-width="1"/>
<text transform="translate(25.3 765.7) rotate(-90)" font-size="10.6" fill="#222" font-family="Liberation Sans">290</text>
<line x1="0" y1="772.5" x2="7.5" y2="772.5" stroke="#8a8a8a" stroke-width="1"/>
<line x1="0" y1="775.5" x2="10.5" y2="775.5" stroke="#8a8a8a" stroke-width="1"/>
<line x1="0" y1="779.5" x2="7.5" y2="779.5" stroke="#8a8a8a" stroke-width="1"/>
<line x1="0" y1="783.5" x2="10.5" y2="783.5" stroke="#8a8a8a" stroke-width="1"/>
<line x1="0" y1="787.5" x2="7.5" y2="787.5" stroke="#8a8a8a" stroke-width="1"/>
<line x1="0" y1="790.5" x2="10.5" y2="790.5" stroke="#8a8a8a" stroke-width="1"/>
<line x1="0" y1="794.5" x2="7.5" y2="794.5" stroke="#8a8a8a" stroke-width="1"/></svg>
<div class="abs" style="left:425px;top:69px;width:1494px;height:22px;background:linear-gradient(180deg,rgba(0,0,0,0.2),rgba(0,0,0,0.09) 30%,rgba(0,0,0,0.03) 65%,rgba(0,0,0,0))"></div>
<div class="abs" style="left:1697px;top:69px;width:1px;height:726px;background:rgba(0,0,0,0.04)"></div>
<div id="pfooter" class="abs"></div>
<div class="abs" style="left:648px;top:878px;width:1050px;height:29px;background:#fff"></div>
<svg class="abs" style="left:678px;top:878px" width="1020" height="30"><line x1="0.5" y1="0" x2="0.5" y2="30" stroke="#5a5a5a" stroke-width="1"/>
<text x="3.7" y="25" font-size="11" fill="#222" font-family="Liberation Sans">0</text>
<line x1="4.5" y1="0" x2="4.5" y2="7" stroke="#8a8a8a" stroke-width="1"/>
<line x1="8.5" y1="0" x2="8.5" y2="10" stroke="#8a8a8a" stroke-width="1"/>
<line x1="11.5" y1="0" x2="11.5" y2="7" stroke="#8a8a8a" stroke-width="1"/>
<line x1="15.5" y1="0" x2="15.5" y2="10" stroke="#8a8a8a" stroke-width="1"/>
<line x1="19.5" y1="0" x2="19.5" y2="7" stroke="#8a8a8a" stroke-width="1"/>
<line x1="23.5" y1="0" x2="23.5" y2="10" stroke="#8a8a8a" stroke-width="1"/>
<line x1="26.5" y1="0" x2="26.5" y2="7" stroke="#8a8a8a" stroke-width="1"/>
<line x1="30.5" y1="0" x2="30.5" y2="10" stroke="#8a8a8a" stroke-width="1"/>
<line x1="34.5" y1="0" x2="34.5" y2="7" stroke="#8a8a8a" stroke-width="1"/>
<line x1="38.5" y1="0" x2="38.5" y2="30" stroke="#5a5a5a" stroke-width="1"/>
<text x="41.7" y="25" font-size="11" fill="#222" font-family="Liberation Sans">10</text>
<line x1="42.5" y1="0" x2="42.5" y2="7" stroke="#8a8a8a" stroke-width="1"/>
<line x1="45.5" y1="0" x2="45.5" y2="10" stroke="#8a8a8a" stroke-width="1"/>
<line x1="49.5" y1="0" x2="49.5" y2="7" stroke="#8a8a8a" stroke-width="1"/>
<line x1="53.5" y1="0" x2="53.5" y2="10" stroke="#8a8a8a" stroke-width="1"/>
<line x1="57.5" y1="0" x2="57.5" y2="7" stroke="#8a8a8a" stroke-width="1"/>
<line x1="60.5" y1="0" x2="60.5" y2="10" stroke="#8a8a8a" stroke-width="1"/>
<line x1="64.5" y1="0" x2="64.5" y2="7" stroke="#8a8a8a" stroke-width="1"/>
<line x1="68.5" y1="0" x2="68.5" y2="10" stroke="#8a8a8a" stroke-width="1"/>
<line x1="72.5" y1="0" x2="72.5" y2="7" stroke="#8a8a8a" stroke-width="1"/>
<line x1="76.5" y1="0" x2="76.5" y2="30" stroke="#5a5a5a" stroke-width="1"/>
<text x="79.7" y="25" font-size="11" fill="#222" font-family="Liberation Sans">20</text>
<line x1="79.5" y1="0" x2="79.5" y2="7" stroke="#8a8a8a" stroke-width="1"/>
<line x1="83.5" y1="0" x2="83.5" y2="10" stroke="#8a8a8a" stroke-width="1"/>
<line x1="87.5" y1="0" x2="87.5" y2="7" stroke="#8a8a8a" stroke-width="1"/>
<line x1="91.5" y1="0" x2="91.5" y2="10" stroke="#8a8a8a" stroke-width="1"/>
<line x1="94.5" y1="0" x2="94.5" y2="7" stroke="#8a8a8a" stroke-width="1"/>
<line x1="98.5" y1="0" x2="98.5" y2="10" stroke="#8a8a8a" stroke-width="1"/>
<line x1="102.5" y1="0" x2="102.5" y2="7" stroke="#8a8a8a" stroke-width="1"/>
<line x1="106.5" y1="0" x2="106.5" y2="10" stroke="#8a8a8a" stroke-width="1"/>
<line x1="110.5" y1="0" x2="110.5" y2="7" stroke="#8a8a8a" stroke-width="1"/>
<line x1="113.5" y1="0" x2="113.5" y2="30" stroke="#5a5a5a" stroke-width="1"/>
<text x="116.7" y="25" font-size="11" fill="#222" font-family="Liberation Sans">30</text>
<line x1="117.5" y1="0" x2="117.5" y2="7" stroke="#8a8a8a" stroke-width="1"/>
<line x1="121.5" y1="0" x2="121.5" y2="10" stroke="#8a8a8a" stroke-width="1"/>
<line x1="125.5" y1="0" x2="125.5" y2="7" stroke="#8a8a8a" stroke-width="1"/>
<line x1="129.5" y1="0" x2="129.5" y2="10" stroke="#8a8a8a" stroke-width="1"/>
<line x1="132.5" y1="0" x2="132.5" y2="7" stroke="#8a8a8a" stroke-width="1"/>
<line x1="136.5" y1="0" x2="136.5" y2="10" stroke="#8a8a8a" stroke-width="1"/>
<line x1="140.5" y1="0" x2="140.5" y2="7" stroke="#8a8a8a" stroke-width="1"/>
<line x1="144.5" y1="0" x2="144.5" y2="10" stroke="#8a8a8a" stroke-width="1"/>
<line x1="147.5" y1="0" x2="147.5" y2="7" stroke="#8a8a8a" stroke-width="1"/>
<line x1="151.5" y1="0" x2="151.5" y2="30" stroke="#5a5a5a" stroke-width="1"/>
<text x="154.7" y="25" font-size="11" fill="#222" font-family="Liberation Sans">40</text>
<line x1="155.5" y1="0" x2="155.5" y2="7" stroke="#8a8a8a" stroke-width="1"/>
<line x1="159.5" y1="0" x2="159.5" y2="10" stroke="#8a8a8a" stroke-width="1"/>
<line x1="163.5" y1="0" x2="163.5" y2="7" stroke="#8a8a8a" stroke-width="1"/>
<line x1="166.5" y1="0" x2="166.5" y2="10" stroke="#8a8a8a" stroke-width="1"/>
<line x1="170.5" y1="0" x2="170.5" y2="7" stroke="#8a8a8a" stroke-width="1"/>
<line x1="174.5" y1="0" x2="174.5" y2="10" stroke="#8a8a8a" stroke-width="1"/>
<line x1="178.5" y1="0" x2="178.5" y2="7" stroke="#8a8a8a" stroke-width="1"/>
<line x1="181.5" y1="0" x2="181.5" y2="10" stroke="#8a8a8a" stroke-width="1"/>
<line x1="185.5" y1="0" x2="185.5" y2="7" stroke="#8a8a8a" stroke-width="1"/>
<line x1="189.5" y1="0" x2="189.5" y2="30" stroke="#5a5a5a" stroke-width="1"/>
<text x="192.7" y="25" font-size="11" fill="#222" font-family="Liberation Sans">50</text>
<line x1="193.5" y1="0" x2="193.5" y2="7" stroke="#8a8a8a" stroke-width="1"/>
<line x1="197.5" y1="0" x2="197.5" y2="10" stroke="#8a8a8a" stroke-width="1"/>
<line x1="200.5" y1="0" x2="200.5" y2="7" stroke="#8a8a8a" stroke-width="1"/>
<line x1="204.5" y1="0" x2="204.5" y2="10" stroke="#8a8a8a" stroke-width="1"/>
<line x1="208.5" y1="0" x2="208.5" y2="7" stroke="#8a8a8a" stroke-width="1"/>
<line x1="212.5" y1="0" x2="212.5" y2="10" stroke="#8a8a8a" stroke-width="1"/>
<line x1="215.5" y1="0" x2="215.5" y2="7" stroke="#8a8a8a" stroke-width="1"/>
<line x1="219.5" y1="0" x2="219.5" y2="10" stroke="#8a8a8a" stroke-width="1"/>
<line x1="223.5" y1="0" x2="223.5" y2="7" stroke="#8a8a8a" stroke-width="1"/>
<line x1="227.5" y1="0" x2="227.5" y2="30" stroke="#5a5a5a" stroke-width="1"/>
<text x="230.7" y="25" font-size="11" fill="#222" font-family="Liberation Sans">60</text>
<line x1="231.5" y1="0" x2="231.5" y2="7" stroke="#8a8a8a" stroke-width="1"/>
<line x1="234.5" y1="0" x2="234.5" y2="10" stroke="#8a8a8a" stroke-width="1"/>
<line x1="238.5" y1="0" x2="238.5" y2="7" stroke="#8a8a8a" stroke-width="1"/>
<line x1="242.5" y1="0" x2="242.5" y2="10" stroke="#8a8a8a" stroke-width="1"/>
<line x1="246.5" y1="0" x2="246.5" y2="7" stroke="#8a8a8a" stroke-width="1"/>
<line x1="249.5" y1="0" x2="249.5" y2="10" stroke="#8a8a8a" stroke-width="1"/>
<line x1="253.5" y1="0" x2="253.5" y2="7" stroke="#8a8a8a" stroke-width="1"/>
<line x1="257.5" y1="0" x2="257.5" y2="10" stroke="#8a8a8a" stroke-width="1"/>
<line x1="261.5" y1="0" x2="261.5" y2="7" stroke="#8a8a8a" stroke-width="1"/>
<line x1="265.5" y1="0" x2="265.5" y2="30" stroke="#5a5a5a" stroke-width="1"/>
<text x="268.7" y="25" font-size="11" fill="#222" font-family="Liberation Sans">70</text>
<line x1="268.5" y1="0" x2="268.5" y2="7" stroke="#8a8a8a" stroke-width="1"/>
<line x1="272.5" y1="0" x2="272.5" y2="10" stroke="#8a8a8a" stroke-width="1"/>
<line x1="276.5" y1="0" x2="276.5" y2="7" stroke="#8a8a8a" stroke-width="1"/>
<line x1="280.5" y1="0" x2="280.5" y2="10" stroke="#8a8a8a" stroke-width="1"/>
<line x1="283.5" y1="0" x2="283.5" y2="7" stroke="#8a8a8a" stroke-width="1"/>
<line x1="287.5" y1="0" x2="287.5" y2="10" stroke="#8a8a8a" stroke-width="1"/>
<line x1="291.5" y1="0" x2="291.5" y2="7" stroke="#8a8a8a" stroke-width="1"/>
<line x1="295.5" y1="0" x2="295.5" y2="10" stroke="#8a8a8a" stroke-width="1"/>
<line x1="299.5" y1="0" x2="299.5" y2="7" stroke="#8a8a8a" stroke-width="1"/>
<line x1="302.5" y1="0" x2="302.5" y2="30" stroke="#5a5a5a" stroke-width="1"/>
<text x="305.7" y="25" font-size="11" fill="#222" font-family="Liberation Sans">80</text>
<line x1="306.5" y1="0" x2="306.5" y2="7" stroke="#8a8a8a" stroke-width="1"/>
<line x1="310.5" y1="0" x2="310.5" y2="10" stroke="#8a8a8a" stroke-width="1"/>
<line x1="314.5" y1="0" x2="314.5" y2="7" stroke="#8a8a8a" stroke-width="1"/>
<line x1="317.5" y1="0" x2="317.5" y2="10" stroke="#8a8a8a" stroke-width="1"/>
<line x1="321.5" y1="0" x2="321.5" y2="7" stroke="#8a8a8a" stroke-width="1"/>
<line x1="325.5" y1="0" x2="325.5" y2="10" stroke="#8a8a8a" stroke-width="1"/>
<line x1="329.5" y1="0" x2="329.5" y2="7" stroke="#8a8a8a" stroke-width="1"/>
<line x1="333.5" y1="0" x2="333.5" y2="10" stroke="#8a8a8a" stroke-width="1"/>
<line x1="336.5" y1="0" x2="336.5" y2="7" stroke="#8a8a8a" stroke-width="1"/>
<line x1="340.5" y1="0" x2="340.5" y2="30" stroke="#5a5a5a" stroke-width="1"/>
<text x="343.7" y="25" font-size="11" fill="#222" font-family="Liberation Sans">90</text>
<line x1="344.5" y1="0" x2="344.5" y2="7" stroke="#8a8a8a" stroke-width="1"/>
<line x1="348.5" y1="0" x2="348.5" y2="10" stroke="#8a8a8a" stroke-width="1"/>
<line x1="351.5" y1="0" x2="351.5" y2="7" stroke="#8a8a8a" stroke-width="1"/>
<line x1="355.5" y1="0" x2="355.5" y2="10" stroke="#8a8a8a" stroke-width="1"/>
<line x1="359.5" y1="0" x2="359.5" y2="7" stroke="#8a8a8a" stroke-width="1"/>
<line x1="363.5" y1="0" x2="363.5" y2="10" stroke="#8a8a8a" stroke-width="1"/>
<line x1="367.5" y1="0" x2="367.5" y2="7" stroke="#8a8a8a" stroke-width="1"/>
<line x1="370.5" y1="0" x2="370.5" y2="10" stroke="#8a8a8a" stroke-width="1"/>
<line x1="374.5" y1="0" x2="374.5" y2="7" stroke="#8a8a8a" stroke-width="1"/>
<line x1="378.5" y1="0" x2="378.5" y2="30" stroke="#5a5a5a" stroke-width="1"/>
<text x="381.7" y="25" font-size="11" fill="#222" font-family="Liberation Sans">100</text>
<line x1="382.5" y1="0" x2="382.5" y2="7" stroke="#8a8a8a" stroke-width="1"/>
<line x1="386.5" y1="0" x2="386.5" y2="10" stroke="#8a8a8a" stroke-width="1"/>
<line x1="389.5" y1="0" x2="389.5" y2="7" stroke="#8a8a8a" stroke-width="1"/>
<line x1="393.5" y1="0" x2="393.5" y2="10" stroke="#8a8a8a" stroke-width="1"/>
<line x1="397.5" y1="0" x2="397.5" y2="7" stroke="#8a8a8a" stroke-width="1"/>
<line x1="401.5" y1="0" x2="401.5" y2="10" stroke="#8a8a8a" stroke-width="1"/>
<line x1="404.5" y1="0" x2="404.5" y2="7" stroke="#8a8a8a" stroke-width="1"/>
<line x1="408.5" y1="0" x2="408.5" y2="10" stroke="#8a8a8a" stroke-width="1"/>
<line x1="412.5" y1="0" x2="412.5" y2="7" stroke="#8a8a8a" stroke-width="1"/>
<line x1="416.5" y1="0" x2="416.5" y2="30" stroke="#5a5a5a" stroke-width="1"/>
<text x="419.7" y="25" font-size="11" fill="#222" font-family="Liberation Sans">110</text>
<line x1="420.5" y1="0" x2="420.5" y2="7" stroke="#8a8a8a" stroke-width="1"/>
<line x1="423.5" y1="0" x2="423.5" y2="10" stroke="#8a8a8a" stroke-width="1"/>
<line x1="427.5" y1="0" x2="427.5" y2="7" stroke="#8a8a8a" stroke-width="1"/>
<line x1="431.5" y1="0" x2="431.5" y2="10" stroke="#8a8a8a" stroke-width="1"/>
<line x1="435.5" y1="0" x2="435.5" y2="7" stroke="#8a8a8a" stroke-width="1"/>
<line x1="438.5" y1="0" x2="438.5" y2="10" stroke="#8a8a8a" stroke-width="1"/>
<line x1="442.5" y1="0" x2="442.5" y2="7" stroke="#8a8a8a" stroke-width="1"/>
<line x1="446.5" y1="0" x2="446.5" y2="10" stroke="#8a8a8a" stroke-width="1"/>
<line x1="450.5" y1="0" x2="450.5" y2="7" stroke="#8a8a8a" stroke-width="1"/>
<line x1="454.5" y1="0" x2="454.5" y2="30" stroke="#5a5a5a" stroke-width="1"/>
<text x="457.7" y="25" font-size="11" fill="#222" font-family="Liberation Sans">120</text>
<line x1="457.5" y1="0" x2="457.5" y2="7" stroke="#8a8a8a" stroke-width="1"/>
<line x1="461.5" y1="0" x2="461.5" y2="10" stroke="#8a8a8a" stroke-width="1"/>
<line x1="465.5" y1="0" x2="465.5" y2="7" stroke="#8a8a8a" stroke-width="1"/>
<line x1="469.5" y1="0" x2="469.5" y2="10" stroke="#8a8a8a" stroke-width="1"/>
<line x1="472.5" y1="0" x2="472.5" y2="7" stroke="#8a8a8a" stroke-width="1"/>
<line x1="476.5" y1="0" x2="476.5" y2="10" stroke="#8a8a8a" stroke-width="1"/>
<line x1="480.5" y1="0" x2="480.5" y2="7" stroke="#8a8a8a" stroke-width="1"/>
<line x1="484.5" y1="0" x2="484.5" y2="10" stroke="#8a8a8a" stroke-width="1"/>
<line x1="488.5" y1="0" x2="488.5" y2="7" stroke="#8a8a8a" stroke-width="1"/>
<line x1="491.5" y1="0" x2="491.5" y2="30" stroke="#5a5a5a" stroke-width="1"/>
<text x="494.7" y="25" font-size="11" fill="#222" font-family="Liberation Sans">130</text>
<line x1="495.5" y1="0" x2="495.5" y2="7" stroke="#8a8a8a" stroke-width="1"/>
<line x1="499.5" y1="0" x2="499.5" y2="10" stroke="#8a8a8a" stroke-width="1"/>
<line x1="503.5" y1="0" x2="503.5" y2="7" stroke="#8a8a8a" stroke-width="1"/>
<line x1="506.5" y1="0" x2="506.5" y2="10" stroke="#8a8a8a" stroke-width="1"/>
<line x1="510.5" y1="0" x2="510.5" y2="7" stroke="#8a8a8a" stroke-width="1"/>
<line x1="514.5" y1="0" x2="514.5" y2="10" stroke="#8a8a8a" stroke-width="1"/>
<line x1="518.5" y1="0" x2="518.5" y2="7" stroke="#8a8a8a" stroke-width="1"/>
<line x1="522.5" y1="0" x2="522.5" y2="10" stroke="#8a8a8a" stroke-width="1"/>
<line x1="525.5" y1="0" x2="525.5" y2="7" stroke="#8a8a8a" stroke-width="1"/>
<line x1="529.5" y1="0" x2="529.5" y2="30" stroke="#5a5a5a" stroke-width="1"/>
<text x="532.7" y="25" font-size="11" fill="#222" font-family="Liberation Sans">140</text>
<line x1="533.5" y1="0" x2="533.5" y2="7" stroke="#8a8a8a" stroke-width="1"/>
<line x1="537.5" y1="0" x2="537.5" y2="10" stroke="#8a8a8a" stroke-width="1"/>
<line x1="540.5" y1="0" x2="540.5" y2="7" stroke="#8a8a8a" stroke-width="1"/>
<line x1="544.5" y1="0" x2="544.5" y2="10" stroke="#8a8a8a" stroke-width="1"/>
<line x1="548.5" y1="0" x2="548.5" y2="7" stroke="#8a8a8a" stroke-width="1"/>
<line x1="552.5" y1="0" x2="552.5" y2="10" stroke="#8a8a8a" stroke-width="1"/>
<line x1="556.5" y1="0" x2="556.5" y2="7" stroke="#8a8a8a" stroke-width="1"/>
<line x1="559.5" y1="0" x2="559.5" y2="10" stroke="#8a8a8a" stroke-width="1"/>
<line x1="563.5" y1="0" x2="563.5" y2="7" stroke="#8a8a8a" stroke-width="1"/>
<line x1="567.5" y1="0" x2="567.5" y2="30" stroke="#5a5a5a" stroke-width="1"/>
<text x="570.7" y="25" font-size="11" fill="#222" font-family="Liberation Sans">150</text>
<line x1="571.5" y1="0" x2="571.5" y2="7" stroke="#8a8a8a" stroke-width="1"/>
<line x1="574.5" y1="0" x2="574.5" y2="10" stroke="#8a8a8a" stroke-width="1"/>
<line x1="578.5" y1="0" x2="578.5" y2="7" stroke="#8a8a8a" stroke-width="1"/>
<line x1="582.5" y1="0" x2="582.5" y2="10" stroke="#8a8a8a" stroke-width="1"/>
<line x1="586.5" y1="0" x2="586.5" y2="7" stroke="#8a8a8a" stroke-width="1"/>
<line x1="590.5" y1="0" x2="590.5" y2="10" stroke="#8a8a8a" stroke-width="1"/>
<line x1="593.5" y1="0" x2="593.5" y2="7" stroke="#8a8a8a" stroke-width="1"/>
<line x1="597.5" y1="0" x2="597.5" y2="10" stroke="#8a8a8a" stroke-width="1"/>
<line x1="601.5" y1="0" x2="601.5" y2="7" stroke="#8a8a8a" stroke-width="1"/>
<line x1="605.5" y1="0" x2="605.5" y2="30" stroke="#5a5a5a" stroke-width="1"/>
<text x="608.7" y="25" font-size="11" fill="#222" font-family="Liberation Sans">160</text>
<line x1="608.5" y1="0" x2="608.5" y2="7" stroke="#8a8a8a" stroke-width="1"/>
<line x1="612.5" y1="0" x2="612.5" y2="10" stroke="#8a8a8a" stroke-width="1"/>
<line x1="616.5" y1="0" x2="616.5" y2="7" stroke="#8a8a8a" stroke-width="1"/>
<line x1="620.5" y1="0" x2="620.5" y2="10" stroke="#8a8a8a" stroke-width="1"/>
<line x1="624.5" y1="0" x2="624.5" y2="7" stroke="#8a8a8a" stroke-width="1"/>
<line x1="627.5" y1="0" x2="627.5" y2="10" stroke="#8a8a8a" stroke-width="1"/>
<line x1="631.5" y1="0" x2="631.5" y2="7" stroke="#8a8a8a" stroke-width="1"/>
<line x1="635.5" y1="0" x2="635.5" y2="10" stroke="#8a8a8a" stroke-width="1"/>
<line x1="639.5" y1="0" x2="639.5" y2="7" stroke="#8a8a8a" stroke-width="1"/>
<line x1="643.5" y1="0" x2="643.5" y2="30" stroke="#5a5a5a" stroke-width="1"/>
<text x="646.7" y="25" font-size="11" fill="#222" font-family="Liberation Sans">170</text>
<line x1="646.5" y1="0" x2="646.5" y2="7" stroke="#8a8a8a" stroke-width="1"/>
<line x1="650.5" y1="0" x2="650.5" y2="10" stroke="#8a8a8a" stroke-width="1"/>
<line x1="654.5" y1="0" x2="654.5" y2="7" stroke="#8a8a8a" stroke-width="1"/>
<line x1="658.5" y1="0" x2="658.5" y2="10" stroke="#8a8a8a" stroke-width="1"/>
<line x1="661.5" y1="0" x2="661.5" y2="7" stroke="#8a8a8a" stroke-width="1"/>
<line x1="665.5" y1="0" x2="665.5" y2="10" stroke="#8a8a8a" stroke-width="1"/>
<line x1="669.5" y1="0" x2="669.5" y2="7" stroke="#8a8a8a" stroke-width="1"/>
<line x1="673.5" y1="0" x2="673.5" y2="10" stroke="#8a8a8a" stroke-width="1"/>
<line x1="677.5" y1="0" x2="677.5" y2="7" stroke="#8a8a8a" stroke-width="1"/>
<line x1="680.5" y1="0" x2="680.5" y2="30" stroke="#5a5a5a" stroke-width="1"/>
<text x="683.7" y="25" font-size="11" fill="#222" font-family="Liberation Sans">180</text>
<line x1="684.5" y1="0" x2="684.5" y2="7" stroke="#8a8a8a" stroke-width="1"/>
<line x1="688.5" y1="0" x2="688.5" y2="10" stroke="#8a8a8a" stroke-width="1"/>
<line x1="692.5" y1="0" x2="692.5" y2="7" stroke="#8a8a8a" stroke-width="1"/>
<line x1="695.5" y1="0" x2="695.5" y2="10" stroke="#8a8a8a" stroke-width="1"/>
<line x1="699.5" y1="0" x2="699.5" y2="7" stroke="#8a8a8a" stroke-width="1"/>
<line x1="703.5" y1="0" x2="703.5" y2="10" stroke="#8a8a8a" stroke-width="1"/>
<line x1="707.5" y1="0" x2="707.5" y2="7" stroke="#8a8a8a" stroke-width="1"/>
<line x1="711.5" y1="0" x2="711.5" y2="10" stroke="#8a8a8a" stroke-width="1"/>
<line x1="714.5" y1="0" x2="714.5" y2="7" stroke="#8a8a8a" stroke-width="1"/>
<line x1="718.5" y1="0" x2="718.5" y2="30" stroke="#5a5a5a" stroke-width="1"/>
<text x="721.7" y="25" font-size="11" fill="#222" font-family="Liberation Sans">190</text>
<line x1="722.5" y1="0" x2="722.5" y2="7" stroke="#8a8a8a" stroke-width="1"/>
<line x1="726.5" y1="0" x2="726.5" y2="10" stroke="#8a8a8a" stroke-width="1"/>
<line x1="729.5" y1="0" x2="729.5" y2="7" stroke="#8a8a8a" stroke-width="1"/>
<line x1="733.5" y1="0" x2="733.5" y2="10" stroke="#8a8a8a" stroke-width="1"/>
<line x1="737.5" y1="0" x2="737.5" y2="7" stroke="#8a8a8a" stroke-width="1"/>
<line x1="741.5" y1="0" x2="741.5" y2="10" stroke="#8a8a8a" stroke-width="1"/>
<line x1="745.5" y1="0" x2="745.5" y2="7" stroke="#8a8a8a" stroke-width="1"/>
<line x1="748.5" y1="0" x2="748.5" y2="10" stroke="#8a8a8a" stroke-width="1"/>
<line x1="752.5" y1="0" x2="752.5" y2="7" stroke="#8a8a8a" stroke-width="1"/>
<line x1="756.5" y1="0" x2="756.5" y2="30" stroke="#5a5a5a" stroke-width="1"/>
<text x="759.7" y="25" font-size="11" fill="#222" font-family="Liberation Sans">200</text>
<line x1="760.5" y1="0" x2="760.5" y2="7" stroke="#8a8a8a" stroke-width="1"/>
<line x1="763.5" y1="0" x2="763.5" y2="10" stroke="#8a8a8a" stroke-width="1"/>
<line x1="767.5" y1="0" x2="767.5" y2="7" stroke="#8a8a8a" stroke-width="1"/>
<line x1="771.5" y1="0" x2="771.5" y2="10" stroke="#8a8a8a" stroke-width="1"/>
<line x1="775.5" y1="0" x2="775.5" y2="7" stroke="#8a8a8a" stroke-width="1"/>
<line x1="779.5" y1="0" x2="779.5" y2="10" stroke="#8a8a8a" stroke-width="1"/>
<line x1="782.5" y1="0" x2="782.5" y2="7" stroke="#8a8a8a" stroke-width="1"/>
<line x1="786.5" y1="0" x2="786.5" y2="10" stroke="#8a8a8a" stroke-width="1"/>
<line x1="790.5" y1="0" x2="790.5" y2="7" stroke="#8a8a8a" stroke-width="1"/>
<line x1="794.5" y1="0" x2="794.5" y2="30" stroke="#5a5a5a" stroke-width="1"/>
<text x="797.7" y="25" font-size="11" fill="#222" font-family="Liberation Sans">210</text>
<line x1="797.5" y1="0" x2="797.5" y2="7" stroke="#8a8a8a" stroke-width="1"/>
<line x1="801.5" y1="0" x2="801.5" y2="10" stroke="#8a8a8a" stroke-width="1"/>
<line x1="805.5" y1="0" x2="805.5" y2="7" stroke="#8a8a8a" stroke-width="1"/>
<line x1="809.5" y1="0" x2="809.5" y2="10" stroke="#8a8a8a" stroke-width="1"/>
<line x1="813.5" y1="0" x2="813.5" y2="7" stroke="#8a8a8a" stroke-width="1"/>
<line x1="816.5" y1="0" x2="816.5" y2="10" stroke="#8a8a8a" stroke-width="1"/>
<line x1="820.5" y1="0" x2="820.5" y2="7" stroke="#8a8a8a" stroke-width="1"/>
<line x1="824.5" y1="0" x2="824.5" y2="10" stroke="#8a8a8a" stroke-width="1"/>
<line x1="828.5" y1="0" x2="828.5" y2="7" stroke="#8a8a8a" stroke-width="1"/>
<line x1="831.5" y1="0" x2="831.5" y2="30" stroke="#5a5a5a" stroke-width="1"/>
<text x="834.7" y="25" font-size="11" fill="#222" font-family="Liberation Sans">220</text>
<line x1="835.5" y1="0" x2="835.5" y2="7" stroke="#8a8a8a" stroke-width="1"/>
<line x1="839.5" y1="0" x2="839.5" y2="10" stroke="#8a8a8a" stroke-width="1"/>
<line x1="843.5" y1="0" x2="843.5" y2="7" stroke="#8a8a8a" stroke-width="1"/>
<line x1="847.5" y1="0" x2="847.5" y2="10" stroke="#8a8a8a" stroke-width="1"/>
<line x1="850.5" y1="0" x2="850.5" y2="7" stroke="#8a8a8a" stroke-width="1"/>
<line x1="854.5" y1="0" x2="854.5" y2="10" stroke="#8a8a8a" stroke-width="1"/>
<line x1="858.5" y1="0" x2="858.5" y2="7" stroke="#8a8a8a" stroke-width="1"/>
<line x1="862.5" y1="0" x2="862.5" y2="10" stroke="#8a8a8a" stroke-width="1"/>
<line x1="866.5" y1="0" x2="866.5" y2="7" stroke="#8a8a8a" stroke-width="1"/>
<line x1="869.5" y1="0" x2="869.5" y2="30" stroke="#5a5a5a" stroke-width="1"/>
<text x="872.7" y="25" font-size="11" fill="#222" font-family="Liberation Sans">230</text>
<line x1="873.5" y1="0" x2="873.5" y2="7" stroke="#8a8a8a" stroke-width="1"/>
<line x1="877.5" y1="0" x2="877.5" y2="10" stroke="#8a8a8a" stroke-width="1"/>
<line x1="881.5" y1="0" x2="881.5" y2="7" stroke="#8a8a8a" stroke-width="1"/>
<line x1="884.5" y1="0" x2="884.5" y2="10" stroke="#8a8a8a" stroke-width="1"/>
<line x1="888.5" y1="0" x2="888.5" y2="7" stroke="#8a8a8a" stroke-width="1"/>
<line x1="892.5" y1="0" x2="892.5" y2="10" stroke="#8a8a8a" stroke-width="1"/>
<line x1="896.5" y1="0" x2="896.5" y2="7" stroke="#8a8a8a" stroke-width="1"/>
<line x1="900.5" y1="0" x2="900.5" y2="10" stroke="#8a8a8a" stroke-width="1"/>
<line x1="903.5" y1="0" x2="903.5" y2="7" stroke="#8a8a8a" stroke-width="1"/>
<line x1="907.5" y1="0" x2="907.5" y2="30" stroke="#5a5a5a" stroke-width="1"/>
<text x="910.7" y="25" font-size="11" fill="#222" font-family="Liberation Sans">240</text>
<line x1="911.5" y1="0" x2="911.5" y2="7" stroke="#8a8a8a" stroke-width="1"/>
<line x1="915.5" y1="0" x2="915.5" y2="10" stroke="#8a8a8a" stroke-width="1"/>
<line x1="918.5" y1="0" x2="918.5" y2="7" stroke="#8a8a8a" stroke-width="1"/>
<line x1="922.5" y1="0" x2="922.5" y2="10" stroke="#8a8a8a" stroke-width="1"/>
<line x1="926.5" y1="0" x2="926.5" y2="7" stroke="#8a8a8a" stroke-width="1"/>
<line x1="930.5" y1="0" x2="930.5" y2="10" stroke="#8a8a8a" stroke-width="1"/>
<line x1="934.5" y1="0" x2="934.5" y2="7" stroke="#8a8a8a" stroke-width="1"/>
<line x1="937.5" y1="0" x2="937.5" y2="10" stroke="#8a8a8a" stroke-width="1"/>
<line x1="941.5" y1="0" x2="941.5" y2="7" stroke="#8a8a8a" stroke-width="1"/>
<line x1="945.5" y1="0" x2="945.5" y2="30" stroke="#5a5a5a" stroke-width="1"/>
<text x="948.7" y="25" font-size="11" fill="#222" font-family="Liberation Sans">250</text>
<line x1="949.5" y1="0" x2="949.5" y2="7" stroke="#8a8a8a" stroke-width="1"/>
<line x1="952.5" y1="0" x2="952.5" y2="10" stroke="#8a8a8a" stroke-width="1"/>
<line x1="956.5" y1="0" x2="956.5" y2="7" stroke="#8a8a8a" stroke-width="1"/>
<line x1="960.5" y1="0" x2="960.5" y2="10" stroke="#8a8a8a" stroke-width="1"/>
<line x1="964.5" y1="0" x2="964.5" y2="7" stroke="#8a8a8a" stroke-width="1"/>
<line x1="968.5" y1="0" x2="968.5" y2="10" stroke="#8a8a8a" stroke-width="1"/>
<line x1="971.5" y1="0" x2="971.5" y2="7" stroke="#8a8a8a" stroke-width="1"/>
<line x1="975.5" y1="0" x2="975.5" y2="10" stroke="#8a8a8a" stroke-width="1"/>
<line x1="979.5" y1="0" x2="979.5" y2="7" stroke="#8a8a8a" stroke-width="1"/>
<line x1="983.5" y1="0" x2="983.5" y2="30" stroke="#5a5a5a" stroke-width="1"/>
<text x="986.7" y="25" font-size="11" fill="#222" font-family="Liberation Sans">260</text>
<line x1="986.5" y1="0" x2="986.5" y2="7" stroke="#8a8a8a" stroke-width="1"/>
<line x1="990.5" y1="0" x2="990.5" y2="10" stroke="#8a8a8a" stroke-width="1"/>
<line x1="994.5" y1="0" x2="994.5" y2="7" stroke="#8a8a8a" stroke-width="1"/>
<line x1="998.5" y1="0" x2="998.5" y2="10" stroke="#8a8a8a" stroke-width="1"/>
<line x1="1002.5" y1="0" x2="1002.5" y2="7" stroke="#8a8a8a" stroke-width="1"/>
<line x1="1005.5" y1="0" x2="1005.5" y2="10" stroke="#8a8a8a" stroke-width="1"/>
<line x1="1009.5" y1="0" x2="1009.5" y2="7" stroke="#8a8a8a" stroke-width="1"/>
<line x1="1013.5" y1="0" x2="1013.5" y2="10" stroke="#8a8a8a" stroke-width="1"/>
<line x1="1017.5" y1="0" x2="1017.5" y2="7" stroke="#8a8a8a" stroke-width="1"/>
<line x1="1020.5" y1="0" x2="1020.5" y2="30" stroke="#5a5a5a" stroke-width="1"/>
<text x="1023.7" y="25" font-size="11" fill="#222" font-family="Liberation Sans">270</text>
<line x1="1024.5" y1="0" x2="1024.5" y2="7" stroke="#8a8a8a" stroke-width="1"/></svg>
<svg class="abs" style="left:648px;top:878px" width="30" height="29" viewBox="648 878 30 29" fill="none" stroke="#d5d5d5" stroke-width="1.6"><path d="M651 881 H669 V886.5 H656.5 V899 H651 Z"/><path d="M659.5 886.5 V884 M663.5 886.5 V884 M656.5 890 H654 M656.5 894 H654" stroke-width="1.2"/></svg>
<svg class="abs" style="left:648px;top:830px" width="1050" height="48" viewBox="648 830 1050 48">
<text x="678" y="864.4" font-family="Liberation Sans" font-weight="bold" font-size="16" fill="#8c8c8c" textLength="110.3" lengthAdjust="spacingAndGlyphs">Pagina 3 van 8</text>
<g fill="none" stroke="#4a4e52" stroke-width="1.5" stroke-linejoin="round" stroke-linecap="round">
<path d="M1417 861.5 L1424.3 850.8 L1431.6 861.5"/>
<path d="M1459 850.8 L1466.2 861.5 L1473.4 850.8"/>
<path d="M1592 848.3 V863.3 M1584.7 855.8 H1599.3" stroke-linecap="butt"/>
<path d="M1542.6 851.8 H1557.4 M1546.5 851.5 V849.2 Q1546.5 848.4 1547.3 848.4 H1552.7 Q1553.5 848.4 1553.5 849.2 V851.5 M1544.4 852 L1545.4 863.3 H1554.6 L1555.6 852"/>
<path d="M1627.5 852.5 V862 L1629.8 864.3 H1638 V850.3 H1629.8 Z M1630.5 848 H1640.8 V862"/>
</g>
<g transform="translate(1508 855.8)" fill="none" stroke="#4a4e52" stroke-width="1.5" stroke-linejoin="round">
<path d="M-1.6 -7.9 H1.6 L2.1 -5.7 L3.9 -4.7 L6 -5.5 L7.6 -2.8 L5.9 -1.3 V1.3 L7.6 2.8 L6 5.5 L3.9 4.7 L2.1 5.7 L1.6 7.9 H-1.6 L-2.1 5.7 L-3.9 4.7 L-6 5.5 L-7.6 2.8 L-5.9 1.3 V-1.3 L-7.6 -2.8 L-6 -5.5 L-3.9 -4.7 L-2.1 -5.7 Z"/>
<circle r="2.6"/>
</g>
<g fill="none" stroke-linejoin="round" stroke-linecap="round">
<path d="M1670.5 855 L1676.3 847.2 Q1677 846.3 1677.7 847.2 L1682.3 853.6 M1668.6 858.5 L1667.6 860.6 Q1667.2 862 1668.8 862 L1672.5 862 M1677.5 862 H1685.3 Q1686.8 862 1686.3 860.6 L1684.6 857.3" stroke="#4a4e52" stroke-width="3"/>
<path d="M1670.5 855 L1676.3 847.2 Q1677 846.3 1677.7 847.2 L1682.3 853.6 M1668.6 858.5 L1667.6 860.6 Q1667.2 862 1668.8 862 L1672.5 862 M1677.5 862 H1685.3 Q1686.8 862 1686.3 860.6 L1684.6 857.3" stroke="#f3f6f9" stroke-width="1.1"/>
</g>
<g fill="#4a4e52"><path d="M1680.2 854.8 L1684.6 855.6 L1683.6 851.2 Z"/><path d="M1667.6 857.8 L1671.4 855.4 L1672.6 859.6 Z"/><path d="M1678.6 859.4 L1674.8 862 L1678.6 864.6 Z"/></g>
<path d="M1670 862 H1672 M1679.5 862 H1685" stroke="#b8b8b8" stroke-width="1.2"/>
</svg>
<div id="help" class="abs"></div>
<svg class="abs" style="left:1855px;top:856px" width="30" height="30" viewBox="0 0 30 30" fill="none" stroke="#fff" stroke-width="1.7"><circle cx="15.5" cy="15.4" r="11.4"/><circle cx="15.5" cy="15.4" r="4.5"/><path d="M7.4 7.3 L12.3 12.2 M23.6 7.3 L18.7 12.2 M7.4 23.5 L12.3 18.6 M23.6 23.5 L18.7 18.6"/></svg>
</body></html>
